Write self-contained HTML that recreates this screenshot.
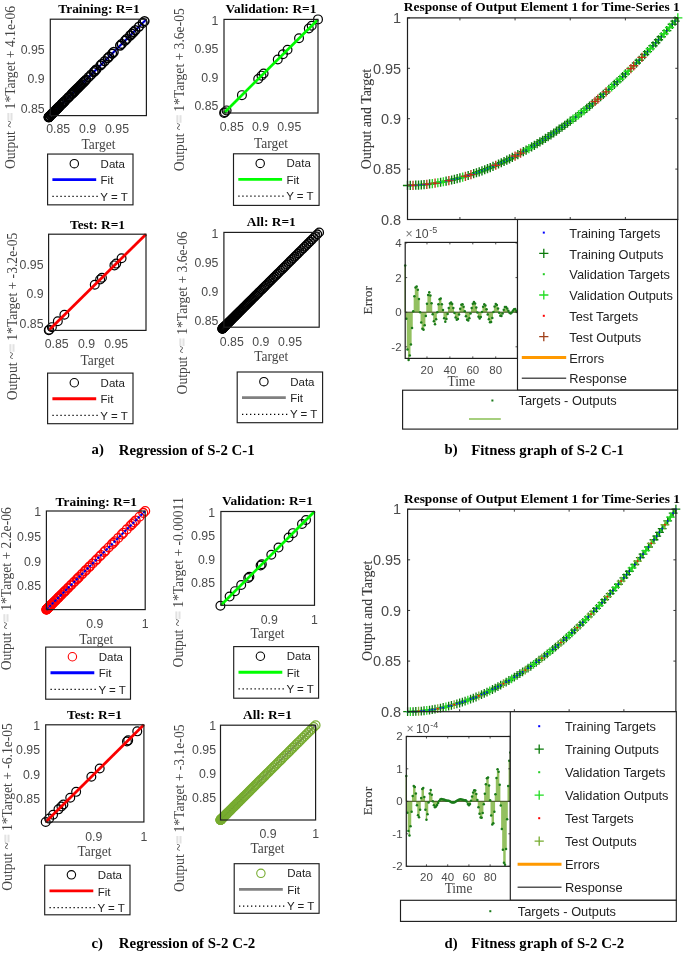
<!DOCTYPE html>
<html><head><meta charset="utf-8"><style>
html,body{margin:0;padding:0;background:#fff;}
body{width:685px;height:953px;overflow:hidden;}
svg{position:absolute;left:0;top:0;filter:blur(0.42px);}
</style></head><body>
<svg width="685" height="953" viewBox="0 0 685 953">
<line x1="50.3" y1="115.6" x2="146.4" y2="19.2" stroke="#0000ff" stroke-width="2.2"/>
<circle cx="48.71" cy="117.19" r="4.4" fill="none" stroke="#000" stroke-width="1.5"/>
<circle cx="48.73" cy="117.18" r="4.4" fill="none" stroke="#000" stroke-width="1.5"/>
<circle cx="48.85" cy="117.06" r="4.4" fill="none" stroke="#000" stroke-width="1.5"/>
<circle cx="48.94" cy="116.96" r="4.4" fill="none" stroke="#000" stroke-width="1.5"/>
<circle cx="49.07" cy="116.84" r="4.4" fill="none" stroke="#000" stroke-width="1.5"/>
<circle cx="49.21" cy="116.69" r="4.4" fill="none" stroke="#000" stroke-width="1.5"/>
<circle cx="49.57" cy="116.33" r="4.4" fill="none" stroke="#000" stroke-width="1.5"/>
<circle cx="50.56" cy="115.34" r="4.4" fill="none" stroke="#000" stroke-width="1.5"/>
<circle cx="51.18" cy="114.71" r="4.4" fill="none" stroke="#000" stroke-width="1.5"/>
<circle cx="51.89" cy="114" r="4.4" fill="none" stroke="#000" stroke-width="1.5"/>
<circle cx="52.28" cy="113.62" r="4.4" fill="none" stroke="#000" stroke-width="1.5"/>
<circle cx="52.68" cy="113.21" r="4.4" fill="none" stroke="#000" stroke-width="1.5"/>
<circle cx="53.11" cy="112.78" r="4.4" fill="none" stroke="#000" stroke-width="1.5"/>
<circle cx="54.52" cy="111.37" r="4.4" fill="none" stroke="#000" stroke-width="1.5"/>
<circle cx="55.55" cy="110.33" r="4.4" fill="none" stroke="#000" stroke-width="1.5"/>
<circle cx="56.1" cy="109.78" r="4.4" fill="none" stroke="#000" stroke-width="1.5"/>
<circle cx="56.67" cy="109.21" r="4.4" fill="none" stroke="#000" stroke-width="1.5"/>
<circle cx="57.26" cy="108.62" r="4.4" fill="none" stroke="#000" stroke-width="1.5"/>
<circle cx="57.87" cy="108.01" r="4.4" fill="none" stroke="#000" stroke-width="1.5"/>
<circle cx="58.49" cy="107.38" r="4.4" fill="none" stroke="#000" stroke-width="1.5"/>
<circle cx="59.14" cy="106.73" r="4.4" fill="none" stroke="#000" stroke-width="1.5"/>
<circle cx="59.81" cy="106.06" r="4.4" fill="none" stroke="#000" stroke-width="1.5"/>
<circle cx="61.2" cy="104.67" r="4.4" fill="none" stroke="#000" stroke-width="1.5"/>
<circle cx="61.92" cy="103.94" r="4.4" fill="none" stroke="#000" stroke-width="1.5"/>
<circle cx="62.67" cy="103.19" r="4.4" fill="none" stroke="#000" stroke-width="1.5"/>
<circle cx="63.43" cy="102.43" r="4.4" fill="none" stroke="#000" stroke-width="1.5"/>
<circle cx="64.21" cy="101.64" r="4.4" fill="none" stroke="#000" stroke-width="1.5"/>
<circle cx="65.01" cy="100.84" r="4.4" fill="none" stroke="#000" stroke-width="1.5"/>
<circle cx="66.67" cy="99.18" r="4.4" fill="none" stroke="#000" stroke-width="1.5"/>
<circle cx="68.41" cy="97.44" r="4.4" fill="none" stroke="#000" stroke-width="1.5"/>
<circle cx="69.3" cy="96.54" r="4.4" fill="none" stroke="#000" stroke-width="1.5"/>
<circle cx="71.15" cy="94.68" r="4.4" fill="none" stroke="#000" stroke-width="1.5"/>
<circle cx="72.1" cy="93.73" r="4.4" fill="none" stroke="#000" stroke-width="1.5"/>
<circle cx="73.07" cy="92.76" r="4.4" fill="none" stroke="#000" stroke-width="1.5"/>
<circle cx="74.06" cy="91.76" r="4.4" fill="none" stroke="#000" stroke-width="1.5"/>
<circle cx="75.07" cy="90.75" r="4.4" fill="none" stroke="#000" stroke-width="1.5"/>
<circle cx="76.1" cy="89.72" r="4.4" fill="none" stroke="#000" stroke-width="1.5"/>
<circle cx="77.14" cy="88.68" r="4.4" fill="none" stroke="#000" stroke-width="1.5"/>
<circle cx="78.2" cy="87.61" r="4.4" fill="none" stroke="#000" stroke-width="1.5"/>
<circle cx="79.28" cy="86.53" r="4.4" fill="none" stroke="#000" stroke-width="1.5"/>
<circle cx="80.38" cy="85.42" r="4.4" fill="none" stroke="#000" stroke-width="1.5"/>
<circle cx="81.5" cy="84.3" r="4.4" fill="none" stroke="#000" stroke-width="1.5"/>
<circle cx="82.64" cy="83.16" r="4.4" fill="none" stroke="#000" stroke-width="1.5"/>
<circle cx="83.79" cy="82.01" r="4.4" fill="none" stroke="#000" stroke-width="1.5"/>
<circle cx="84.96" cy="80.83" r="4.4" fill="none" stroke="#000" stroke-width="1.5"/>
<circle cx="86.15" cy="79.64" r="4.4" fill="none" stroke="#000" stroke-width="1.5"/>
<circle cx="88.59" cy="77.19" r="4.4" fill="none" stroke="#000" stroke-width="1.5"/>
<circle cx="91.09" cy="74.68" r="4.4" fill="none" stroke="#000" stroke-width="1.5"/>
<circle cx="93.67" cy="72.09" r="4.4" fill="none" stroke="#000" stroke-width="1.5"/>
<circle cx="94.99" cy="70.77" r="4.4" fill="none" stroke="#000" stroke-width="1.5"/>
<circle cx="96.32" cy="69.43" r="4.4" fill="none" stroke="#000" stroke-width="1.5"/>
<circle cx="100.43" cy="65.31" r="4.4" fill="none" stroke="#000" stroke-width="1.5"/>
<circle cx="101.84" cy="63.9" r="4.4" fill="none" stroke="#000" stroke-width="1.5"/>
<circle cx="104.7" cy="61.03" r="4.4" fill="none" stroke="#000" stroke-width="1.5"/>
<circle cx="107.64" cy="58.08" r="4.4" fill="none" stroke="#000" stroke-width="1.5"/>
<circle cx="109.13" cy="56.59" r="4.4" fill="none" stroke="#000" stroke-width="1.5"/>
<circle cx="112.17" cy="53.54" r="4.4" fill="none" stroke="#000" stroke-width="1.5"/>
<circle cx="113.72" cy="51.99" r="4.4" fill="none" stroke="#000" stroke-width="1.5"/>
<circle cx="120.08" cy="45.61" r="4.4" fill="none" stroke="#000" stroke-width="1.5"/>
<circle cx="121.71" cy="43.97" r="4.4" fill="none" stroke="#000" stroke-width="1.5"/>
<circle cx="125.03" cy="40.64" r="4.4" fill="none" stroke="#000" stroke-width="1.5"/>
<circle cx="126.72" cy="38.95" r="4.4" fill="none" stroke="#000" stroke-width="1.5"/>
<circle cx="130.14" cy="35.51" r="4.4" fill="none" stroke="#000" stroke-width="1.5"/>
<circle cx="131.88" cy="33.77" r="4.4" fill="none" stroke="#000" stroke-width="1.5"/>
<circle cx="133.63" cy="32.01" r="4.4" fill="none" stroke="#000" stroke-width="1.5"/>
<circle cx="135.4" cy="30.23" r="4.4" fill="none" stroke="#000" stroke-width="1.5"/>
<circle cx="139" cy="26.62" r="4.4" fill="none" stroke="#000" stroke-width="1.5"/>
<circle cx="142.67" cy="22.95" r="4.4" fill="none" stroke="#000" stroke-width="1.5"/>
<circle cx="144.52" cy="21.08" r="4.4" fill="none" stroke="#000" stroke-width="1.5"/>
<line x1="50.3" y1="115.6" x2="146.4" y2="19.2" stroke="#000" stroke-width="1" stroke-dasharray="1.2 1.4" stroke-opacity="1"/>
<rect x="50.3" y="19.2" width="96.1" height="96.4" fill="none" stroke="#1e1e1e" stroke-width="1.2"/>
<text x="58.23" y="133" font-family='"Liberation Sans", sans-serif' font-size="12.3" fill="#4a4a4a" text-anchor="middle" font-weight="normal" >0.85</text>
<text x="87.62" y="133" font-family='"Liberation Sans", sans-serif' font-size="12.3" fill="#4a4a4a" text-anchor="middle" font-weight="normal" >0.9</text>
<text x="117.01" y="133" font-family='"Liberation Sans", sans-serif' font-size="12.3" fill="#4a4a4a" text-anchor="middle" font-weight="normal" >0.95</text>
<text x="44.6" y="112.84" font-family='"Liberation Sans", sans-serif' font-size="12.3" fill="#4a4a4a" text-anchor="end" font-weight="normal" >0.85</text>
<text x="44.6" y="83.36" font-family='"Liberation Sans", sans-serif' font-size="12.3" fill="#4a4a4a" text-anchor="end" font-weight="normal" >0.9</text>
<text x="44.6" y="53.88" font-family='"Liberation Sans", sans-serif' font-size="12.3" fill="#4a4a4a" text-anchor="end" font-weight="normal" >0.95</text>
<text x="99" y="13.4" font-family='"Liberation Serif", serif' font-size="13.4" fill="#000" text-anchor="middle" font-weight="bold" >Training: R=1</text>
<text x="0" y="0" font-family='"Liberation Serif", serif' font-size="13.5" fill="#444" text-anchor="middle" font-weight="normal" transform="translate(98.5 149.3) scale(1 1.1)" >Target</text>
<text x="15" y="169" font-family='"Liberation Serif", serif' font-size="13.6" fill="#444" text-anchor="start" transform="rotate(-90 15 169)">Output ~<tspan fill="#e2e2e2" stroke="#e2e2e2" stroke-width="1.2">=</tspan> 1*Target + 4.1e-06</text>
<rect x="47.6" y="154.05" width="85.4" height="50.8" fill="#fff" stroke="#1e1e1e" stroke-width="1.15"/>
<circle cx="74.3" cy="163.7" r="4.2" fill="none" stroke="#000" stroke-width="1.1"/>
<text x="100.6" y="167.6" font-family='"Liberation Sans", sans-serif' font-size="11.5" fill="#222" text-anchor="start" font-weight="normal" >Data</text>
<line x1="52.4" y1="179.7" x2="96.2" y2="179.7" stroke="#0000ff" stroke-width="2.8" />
<text x="100.6" y="184.4" font-family='"Liberation Sans", sans-serif' font-size="11.5" fill="#222" text-anchor="start" font-weight="normal" >Fit</text>
<line x1="52.4" y1="196.4" x2="97.7" y2="196.4" stroke="#000" stroke-width="1.3" stroke-dasharray="1.3 2.7"/>
<text x="100.3" y="200.5" font-family='"Liberation Sans", sans-serif' font-size="11.5" fill="#222" text-anchor="start" font-weight="normal" >Y = T</text>
<circle cx="224.11" cy="112.89" r="4.4" fill="none" stroke="#000" stroke-width="1.2"/>
<circle cx="224.86" cy="112.14" r="4.4" fill="none" stroke="#000" stroke-width="1.2"/>
<circle cx="226.59" cy="110.42" r="4.4" fill="none" stroke="#000" stroke-width="1.2"/>
<circle cx="241.94" cy="95.14" r="4.4" fill="none" stroke="#000" stroke-width="1.2"/>
<circle cx="258.21" cy="78.94" r="4.4" fill="none" stroke="#000" stroke-width="1.2"/>
<circle cx="261.49" cy="75.67" r="4.4" fill="none" stroke="#000" stroke-width="1.2"/>
<circle cx="263.61" cy="73.56" r="4.4" fill="none" stroke="#000" stroke-width="1.2"/>
<circle cx="277.76" cy="59.47" r="4.4" fill="none" stroke="#000" stroke-width="1.2"/>
<circle cx="282.93" cy="54.32" r="4.4" fill="none" stroke="#000" stroke-width="1.2"/>
<circle cx="287.53" cy="49.74" r="4.4" fill="none" stroke="#000" stroke-width="1.2"/>
<circle cx="299.03" cy="38.29" r="4.4" fill="none" stroke="#000" stroke-width="1.2"/>
<circle cx="308.8" cy="28.56" r="4.4" fill="none" stroke="#000" stroke-width="1.2"/>
<circle cx="311.68" cy="25.7" r="4.4" fill="none" stroke="#000" stroke-width="1.2"/>
<circle cx="318" cy="19.4" r="4.4" fill="none" stroke="#000" stroke-width="1.2"/>
<line x1="224" y1="113" x2="318" y2="19.4" stroke="#00ff00" stroke-width="2.8"/>
<line x1="224" y1="113" x2="318" y2="19.4" stroke="#000" stroke-width="1" stroke-dasharray="1.2 1.4" stroke-opacity="0.15"/>
<rect x="224" y="19.4" width="94" height="93.6" fill="none" stroke="#1e1e1e" stroke-width="1.2"/>
<text x="231.76" y="131.2" font-family='"Liberation Sans", sans-serif' font-size="12.3" fill="#4a4a4a" text-anchor="middle" font-weight="normal" >0.85</text>
<text x="260.51" y="131.2" font-family='"Liberation Sans", sans-serif' font-size="12.3" fill="#4a4a4a" text-anchor="middle" font-weight="normal" >0.9</text>
<text x="289.25" y="131.2" font-family='"Liberation Sans", sans-serif' font-size="12.3" fill="#4a4a4a" text-anchor="middle" font-weight="normal" >0.95</text>
<text x="218.4" y="110.47" font-family='"Liberation Sans", sans-serif' font-size="12.3" fill="#4a4a4a" text-anchor="end" font-weight="normal" >0.85</text>
<text x="218.4" y="81.85" font-family='"Liberation Sans", sans-serif' font-size="12.3" fill="#4a4a4a" text-anchor="end" font-weight="normal" >0.9</text>
<text x="218.4" y="53.22" font-family='"Liberation Sans", sans-serif' font-size="12.3" fill="#4a4a4a" text-anchor="end" font-weight="normal" >0.95</text>
<text x="218.4" y="24.6" font-family='"Liberation Sans", sans-serif' font-size="12.3" fill="#4a4a4a" text-anchor="end" font-weight="normal" >1</text>
<text x="271" y="13.4" font-family='"Liberation Serif", serif' font-size="13.4" fill="#000" text-anchor="middle" font-weight="bold" >Validation: R=1</text>
<text x="0" y="0" font-family='"Liberation Serif", serif' font-size="13.5" fill="#444" text-anchor="middle" font-weight="normal" transform="translate(271 147.5) scale(1 1.1)" >Target</text>
<text x="184" y="171.3" font-family='"Liberation Serif", serif' font-size="13.6" fill="#444" text-anchor="start" transform="rotate(-90 184 171.3)">Output ~<tspan fill="#e2e2e2" stroke="#e2e2e2" stroke-width="1.2">=</tspan> 1*Target + 3.6e-05</text>
<rect x="233.5" y="153.8" width="85.6" height="51.6" fill="#fff" stroke="#1e1e1e" stroke-width="1.15"/>
<circle cx="260.2" cy="163.45" r="4.2" fill="none" stroke="#000" stroke-width="1.1"/>
<text x="286.5" y="167.35" font-family='"Liberation Sans", sans-serif' font-size="11.5" fill="#222" text-anchor="start" font-weight="normal" >Data</text>
<line x1="238.3" y1="179.45" x2="282.1" y2="179.45" stroke="#00ff00" stroke-width="2.8" />
<text x="286.5" y="184.15" font-family='"Liberation Sans", sans-serif' font-size="11.5" fill="#222" text-anchor="start" font-weight="normal" >Fit</text>
<line x1="238.3" y1="196.15" x2="283.6" y2="196.15" stroke="#000" stroke-width="1.3" stroke-dasharray="1.3 2.7"/>
<text x="286.2" y="200.25" font-family='"Liberation Sans", sans-serif' font-size="11.5" fill="#222" text-anchor="start" font-weight="normal" >Y = T</text>
<circle cx="48.78" cy="330.22" r="4.4" fill="none" stroke="#000" stroke-width="1.2"/>
<circle cx="49.2" cy="329.81" r="4.4" fill="none" stroke="#000" stroke-width="1.2"/>
<circle cx="51.88" cy="327.16" r="4.4" fill="none" stroke="#000" stroke-width="1.2"/>
<circle cx="57.83" cy="321.28" r="4.4" fill="none" stroke="#000" stroke-width="1.2"/>
<circle cx="64.39" cy="314.81" r="4.4" fill="none" stroke="#000" stroke-width="1.2"/>
<circle cx="94.77" cy="284.8" r="4.4" fill="none" stroke="#000" stroke-width="1.2"/>
<circle cx="100.13" cy="279.51" r="4.4" fill="none" stroke="#000" stroke-width="1.2"/>
<circle cx="101.92" cy="277.74" r="4.4" fill="none" stroke="#000" stroke-width="1.2"/>
<circle cx="114.43" cy="265.38" r="4.4" fill="none" stroke="#000" stroke-width="1.2"/>
<circle cx="116.21" cy="263.62" r="4.4" fill="none" stroke="#000" stroke-width="1.2"/>
<circle cx="121.58" cy="258.32" r="4.4" fill="none" stroke="#000" stroke-width="1.2"/>
<line x1="48.6" y1="330.4" x2="146" y2="234.2" stroke="#ff0000" stroke-width="2.8"/>
<line x1="48.6" y1="330.4" x2="146" y2="234.2" stroke="#000" stroke-width="1" stroke-dasharray="1.2 1.4" stroke-opacity="0.15"/>
<rect x="48.6" y="234.2" width="97.4" height="96.2" fill="none" stroke="#1e1e1e" stroke-width="1.2"/>
<text x="56.64" y="348.2" font-family='"Liberation Sans", sans-serif' font-size="12.3" fill="#4a4a4a" text-anchor="middle" font-weight="normal" >0.85</text>
<text x="86.43" y="348.2" font-family='"Liberation Sans", sans-serif' font-size="12.3" fill="#4a4a4a" text-anchor="middle" font-weight="normal" >0.9</text>
<text x="116.21" y="348.2" font-family='"Liberation Sans", sans-serif' font-size="12.3" fill="#4a4a4a" text-anchor="middle" font-weight="normal" >0.95</text>
<text x="43.5" y="327.66" font-family='"Liberation Sans", sans-serif' font-size="12.3" fill="#4a4a4a" text-anchor="end" font-weight="normal" >0.85</text>
<text x="43.5" y="298.24" font-family='"Liberation Sans", sans-serif' font-size="12.3" fill="#4a4a4a" text-anchor="end" font-weight="normal" >0.9</text>
<text x="43.5" y="268.82" font-family='"Liberation Sans", sans-serif' font-size="12.3" fill="#4a4a4a" text-anchor="end" font-weight="normal" >0.95</text>
<text x="97.5" y="228.8" font-family='"Liberation Serif", serif' font-size="13.4" fill="#000" text-anchor="middle" font-weight="bold" >Test: R=1</text>
<text x="0" y="0" font-family='"Liberation Serif", serif' font-size="13.5" fill="#444" text-anchor="middle" font-weight="normal" transform="translate(97.5 364.5) scale(1 1.1)" >Target</text>
<text x="17" y="400.3" font-family='"Liberation Serif", serif' font-size="13.6" fill="#444" text-anchor="start" transform="rotate(-90 17 400.3)">Output ~<tspan fill="#e2e2e2" stroke="#e2e2e2" stroke-width="1.2">=</tspan> 1*Target + -3.2e-05</text>
<rect x="47.6" y="373.1" width="85.4" height="50.6" fill="#fff" stroke="#1e1e1e" stroke-width="1.15"/>
<circle cx="74.3" cy="382.75" r="4.2" fill="none" stroke="#000" stroke-width="1.1"/>
<text x="100.6" y="386.65" font-family='"Liberation Sans", sans-serif' font-size="11.5" fill="#222" text-anchor="start" font-weight="normal" >Data</text>
<line x1="52.4" y1="398.75" x2="96.2" y2="398.75" stroke="#ff0000" stroke-width="2.8" />
<text x="100.6" y="403.45" font-family='"Liberation Sans", sans-serif' font-size="11.5" fill="#222" text-anchor="start" font-weight="normal" >Fit</text>
<line x1="52.4" y1="415.45" x2="97.7" y2="415.45" stroke="#000" stroke-width="1.3" stroke-dasharray="1.3 2.7"/>
<text x="100.3" y="419.55" font-family='"Liberation Sans", sans-serif' font-size="11.5" fill="#222" text-anchor="start" font-weight="normal" >Y = T</text>
<line x1="223.9" y1="327.2" x2="319.2" y2="232.4" stroke="#808080" stroke-width="2.2"/>
<circle cx="222.33" cy="328.77" r="4.25" fill="none" stroke="#000" stroke-width="1.3"/>
<circle cx="222.34" cy="328.75" r="4.25" fill="none" stroke="#000" stroke-width="1.3"/>
<circle cx="222.39" cy="328.7" r="4.25" fill="none" stroke="#000" stroke-width="1.3"/>
<circle cx="222.46" cy="328.63" r="4.25" fill="none" stroke="#000" stroke-width="1.3"/>
<circle cx="222.56" cy="328.54" r="4.25" fill="none" stroke="#000" stroke-width="1.3"/>
<circle cx="222.68" cy="328.42" r="4.25" fill="none" stroke="#000" stroke-width="1.3"/>
<circle cx="222.82" cy="328.27" r="4.25" fill="none" stroke="#000" stroke-width="1.3"/>
<circle cx="222.99" cy="328.11" r="4.25" fill="none" stroke="#000" stroke-width="1.3"/>
<circle cx="223.18" cy="327.92" r="4.25" fill="none" stroke="#000" stroke-width="1.3"/>
<circle cx="223.39" cy="327.71" r="4.25" fill="none" stroke="#000" stroke-width="1.3"/>
<circle cx="223.62" cy="327.48" r="4.25" fill="none" stroke="#000" stroke-width="1.3"/>
<circle cx="223.88" cy="327.22" r="4.25" fill="none" stroke="#000" stroke-width="1.3"/>
<circle cx="224.16" cy="326.95" r="4.25" fill="none" stroke="#000" stroke-width="1.3"/>
<circle cx="224.46" cy="326.65" r="4.25" fill="none" stroke="#000" stroke-width="1.3"/>
<circle cx="224.78" cy="326.33" r="4.25" fill="none" stroke="#000" stroke-width="1.3"/>
<circle cx="225.12" cy="325.99" r="4.25" fill="none" stroke="#000" stroke-width="1.3"/>
<circle cx="225.48" cy="325.63" r="4.25" fill="none" stroke="#000" stroke-width="1.3"/>
<circle cx="225.86" cy="325.25" r="4.25" fill="none" stroke="#000" stroke-width="1.3"/>
<circle cx="226.26" cy="324.85" r="4.25" fill="none" stroke="#000" stroke-width="1.3"/>
<circle cx="226.69" cy="324.43" r="4.25" fill="none" stroke="#000" stroke-width="1.3"/>
<circle cx="227.13" cy="323.99" r="4.25" fill="none" stroke="#000" stroke-width="1.3"/>
<circle cx="227.6" cy="323.52" r="4.25" fill="none" stroke="#000" stroke-width="1.3"/>
<circle cx="228.08" cy="323.04" r="4.25" fill="none" stroke="#000" stroke-width="1.3"/>
<circle cx="228.58" cy="322.54" r="4.25" fill="none" stroke="#000" stroke-width="1.3"/>
<circle cx="229.11" cy="322.02" r="4.25" fill="none" stroke="#000" stroke-width="1.3"/>
<circle cx="229.65" cy="321.48" r="4.25" fill="none" stroke="#000" stroke-width="1.3"/>
<circle cx="230.22" cy="320.92" r="4.25" fill="none" stroke="#000" stroke-width="1.3"/>
<circle cx="230.8" cy="320.34" r="4.25" fill="none" stroke="#000" stroke-width="1.3"/>
<circle cx="231.4" cy="319.74" r="4.25" fill="none" stroke="#000" stroke-width="1.3"/>
<circle cx="232.03" cy="319.12" r="4.25" fill="none" stroke="#000" stroke-width="1.3"/>
<circle cx="232.67" cy="318.48" r="4.25" fill="none" stroke="#000" stroke-width="1.3"/>
<circle cx="233.33" cy="317.82" r="4.25" fill="none" stroke="#000" stroke-width="1.3"/>
<circle cx="234.01" cy="317.14" r="4.25" fill="none" stroke="#000" stroke-width="1.3"/>
<circle cx="234.71" cy="316.45" r="4.25" fill="none" stroke="#000" stroke-width="1.3"/>
<circle cx="235.43" cy="315.73" r="4.25" fill="none" stroke="#000" stroke-width="1.3"/>
<circle cx="236.16" cy="315" r="4.25" fill="none" stroke="#000" stroke-width="1.3"/>
<circle cx="236.92" cy="314.25" r="4.25" fill="none" stroke="#000" stroke-width="1.3"/>
<circle cx="237.7" cy="313.48" r="4.25" fill="none" stroke="#000" stroke-width="1.3"/>
<circle cx="238.49" cy="312.69" r="4.25" fill="none" stroke="#000" stroke-width="1.3"/>
<circle cx="239.3" cy="311.88" r="4.25" fill="none" stroke="#000" stroke-width="1.3"/>
<circle cx="240.14" cy="311.05" r="4.25" fill="none" stroke="#000" stroke-width="1.3"/>
<circle cx="240.99" cy="310.2" r="4.25" fill="none" stroke="#000" stroke-width="1.3"/>
<circle cx="241.86" cy="309.34" r="4.25" fill="none" stroke="#000" stroke-width="1.3"/>
<circle cx="242.75" cy="308.45" r="4.25" fill="none" stroke="#000" stroke-width="1.3"/>
<circle cx="243.65" cy="307.55" r="4.25" fill="none" stroke="#000" stroke-width="1.3"/>
<circle cx="244.58" cy="306.63" r="4.25" fill="none" stroke="#000" stroke-width="1.3"/>
<circle cx="245.52" cy="305.69" r="4.25" fill="none" stroke="#000" stroke-width="1.3"/>
<circle cx="246.48" cy="304.73" r="4.25" fill="none" stroke="#000" stroke-width="1.3"/>
<circle cx="247.46" cy="303.76" r="4.25" fill="none" stroke="#000" stroke-width="1.3"/>
<circle cx="248.46" cy="302.77" r="4.25" fill="none" stroke="#000" stroke-width="1.3"/>
<circle cx="249.48" cy="301.75" r="4.25" fill="none" stroke="#000" stroke-width="1.3"/>
<circle cx="250.52" cy="300.72" r="4.25" fill="none" stroke="#000" stroke-width="1.3"/>
<circle cx="251.57" cy="299.68" r="4.25" fill="none" stroke="#000" stroke-width="1.3"/>
<circle cx="252.64" cy="298.61" r="4.25" fill="none" stroke="#000" stroke-width="1.3"/>
<circle cx="253.73" cy="297.52" r="4.25" fill="none" stroke="#000" stroke-width="1.3"/>
<circle cx="254.84" cy="296.42" r="4.25" fill="none" stroke="#000" stroke-width="1.3"/>
<circle cx="255.97" cy="295.3" r="4.25" fill="none" stroke="#000" stroke-width="1.3"/>
<circle cx="257.11" cy="294.16" r="4.25" fill="none" stroke="#000" stroke-width="1.3"/>
<circle cx="258.27" cy="293.01" r="4.25" fill="none" stroke="#000" stroke-width="1.3"/>
<circle cx="259.45" cy="291.83" r="4.25" fill="none" stroke="#000" stroke-width="1.3"/>
<circle cx="260.65" cy="290.64" r="4.25" fill="none" stroke="#000" stroke-width="1.3"/>
<circle cx="261.87" cy="289.43" r="4.25" fill="none" stroke="#000" stroke-width="1.3"/>
<circle cx="263.1" cy="288.2" r="4.25" fill="none" stroke="#000" stroke-width="1.3"/>
<circle cx="264.35" cy="286.96" r="4.25" fill="none" stroke="#000" stroke-width="1.3"/>
<circle cx="265.62" cy="285.69" r="4.25" fill="none" stroke="#000" stroke-width="1.3"/>
<circle cx="266.91" cy="284.41" r="4.25" fill="none" stroke="#000" stroke-width="1.3"/>
<circle cx="268.22" cy="283.12" r="4.25" fill="none" stroke="#000" stroke-width="1.3"/>
<circle cx="269.54" cy="281.8" r="4.25" fill="none" stroke="#000" stroke-width="1.3"/>
<circle cx="270.88" cy="280.47" r="4.25" fill="none" stroke="#000" stroke-width="1.3"/>
<circle cx="272.24" cy="279.11" r="4.25" fill="none" stroke="#000" stroke-width="1.3"/>
<circle cx="273.62" cy="277.75" r="4.25" fill="none" stroke="#000" stroke-width="1.3"/>
<circle cx="275.01" cy="276.36" r="4.25" fill="none" stroke="#000" stroke-width="1.3"/>
<circle cx="276.42" cy="274.96" r="4.25" fill="none" stroke="#000" stroke-width="1.3"/>
<circle cx="277.85" cy="273.53" r="4.25" fill="none" stroke="#000" stroke-width="1.3"/>
<circle cx="279.3" cy="272.1" r="4.25" fill="none" stroke="#000" stroke-width="1.3"/>
<circle cx="280.76" cy="270.64" r="4.25" fill="none" stroke="#000" stroke-width="1.3"/>
<circle cx="282.24" cy="269.17" r="4.25" fill="none" stroke="#000" stroke-width="1.3"/>
<circle cx="283.74" cy="267.68" r="4.25" fill="none" stroke="#000" stroke-width="1.3"/>
<circle cx="285.25" cy="266.17" r="4.25" fill="none" stroke="#000" stroke-width="1.3"/>
<circle cx="286.79" cy="264.64" r="4.25" fill="none" stroke="#000" stroke-width="1.3"/>
<circle cx="288.34" cy="263.1" r="4.25" fill="none" stroke="#000" stroke-width="1.3"/>
<circle cx="289.91" cy="261.54" r="4.25" fill="none" stroke="#000" stroke-width="1.3"/>
<circle cx="291.49" cy="259.96" r="4.25" fill="none" stroke="#000" stroke-width="1.3"/>
<circle cx="293.1" cy="258.37" r="4.25" fill="none" stroke="#000" stroke-width="1.3"/>
<circle cx="294.72" cy="256.76" r="4.25" fill="none" stroke="#000" stroke-width="1.3"/>
<circle cx="296.35" cy="255.13" r="4.25" fill="none" stroke="#000" stroke-width="1.3"/>
<circle cx="298.01" cy="253.48" r="4.25" fill="none" stroke="#000" stroke-width="1.3"/>
<circle cx="299.68" cy="251.82" r="4.25" fill="none" stroke="#000" stroke-width="1.3"/>
<circle cx="301.37" cy="250.14" r="4.25" fill="none" stroke="#000" stroke-width="1.3"/>
<circle cx="303.08" cy="248.44" r="4.25" fill="none" stroke="#000" stroke-width="1.3"/>
<circle cx="304.8" cy="246.73" r="4.25" fill="none" stroke="#000" stroke-width="1.3"/>
<circle cx="306.54" cy="244.99" r="4.25" fill="none" stroke="#000" stroke-width="1.3"/>
<circle cx="308.3" cy="243.25" r="4.25" fill="none" stroke="#000" stroke-width="1.3"/>
<circle cx="310.07" cy="241.48" r="4.25" fill="none" stroke="#000" stroke-width="1.3"/>
<circle cx="311.86" cy="239.7" r="4.25" fill="none" stroke="#000" stroke-width="1.3"/>
<circle cx="313.67" cy="237.9" r="4.25" fill="none" stroke="#000" stroke-width="1.3"/>
<circle cx="315.5" cy="236.08" r="4.25" fill="none" stroke="#000" stroke-width="1.3"/>
<circle cx="317.34" cy="234.25" r="4.25" fill="none" stroke="#000" stroke-width="1.3"/>
<circle cx="319.2" cy="232.4" r="4.25" fill="none" stroke="#000" stroke-width="1.3"/>
<line x1="223.9" y1="327.2" x2="319.2" y2="232.4" stroke="#000" stroke-width="1" stroke-dasharray="1.2 1.4" stroke-opacity="0.4"/>
<rect x="223.9" y="232.4" width="95.3" height="94.8" fill="none" stroke="#1e1e1e" stroke-width="1.2"/>
<text x="231.77" y="345.7" font-family='"Liberation Sans", sans-serif' font-size="12.3" fill="#4a4a4a" text-anchor="middle" font-weight="normal" >0.85</text>
<text x="260.91" y="345.7" font-family='"Liberation Sans", sans-serif' font-size="12.3" fill="#4a4a4a" text-anchor="middle" font-weight="normal" >0.9</text>
<text x="290.06" y="345.7" font-family='"Liberation Sans", sans-serif' font-size="12.3" fill="#4a4a4a" text-anchor="middle" font-weight="normal" >0.95</text>
<text x="218.4" y="324.57" font-family='"Liberation Sans", sans-serif' font-size="12.3" fill="#4a4a4a" text-anchor="end" font-weight="normal" >0.85</text>
<text x="218.4" y="295.58" font-family='"Liberation Sans", sans-serif' font-size="12.3" fill="#4a4a4a" text-anchor="end" font-weight="normal" >0.9</text>
<text x="218.4" y="266.59" font-family='"Liberation Sans", sans-serif' font-size="12.3" fill="#4a4a4a" text-anchor="end" font-weight="normal" >0.95</text>
<text x="218.4" y="237.6" font-family='"Liberation Sans", sans-serif' font-size="12.3" fill="#4a4a4a" text-anchor="end" font-weight="normal" >1</text>
<text x="271.3" y="226.4" font-family='"Liberation Serif", serif' font-size="13.4" fill="#000" text-anchor="middle" font-weight="bold" >All: R=1</text>
<text x="0" y="0" font-family='"Liberation Serif", serif' font-size="13.5" fill="#444" text-anchor="middle" font-weight="normal" transform="translate(271.3 361.2) scale(1 1.1)" >Target</text>
<text x="187" y="394.4" font-family='"Liberation Serif", serif' font-size="13.6" fill="#444" text-anchor="start" transform="rotate(-90 187 394.4)">Output ~<tspan fill="#e2e2e2" stroke="#e2e2e2" stroke-width="1.2">=</tspan> 1*Target + 3.6e-06</text>
<rect x="237.2" y="372" width="85.4" height="50.7" fill="#fff" stroke="#1e1e1e" stroke-width="1.15"/>
<circle cx="263.9" cy="381.65" r="4.2" fill="none" stroke="#000" stroke-width="1.1"/>
<text x="290.2" y="385.55" font-family='"Liberation Sans", sans-serif' font-size="11.5" fill="#222" text-anchor="start" font-weight="normal" >Data</text>
<line x1="242" y1="397.65" x2="285.8" y2="397.65" stroke="#808080" stroke-width="2.8" />
<text x="290.2" y="402.35" font-family='"Liberation Sans", sans-serif' font-size="11.5" fill="#222" text-anchor="start" font-weight="normal" >Fit</text>
<line x1="242" y1="414.35" x2="287.3" y2="414.35" stroke="#000" stroke-width="1.3" stroke-dasharray="1.3 2.7"/>
<text x="289.9" y="418.45" font-family='"Liberation Sans", sans-serif' font-size="11.5" fill="#222" text-anchor="start" font-weight="normal" >Y = T</text>
<circle cx="46.4" cy="609.6" r="4.4" fill="none" stroke="#ff0000" stroke-width="1.3"/>
<circle cx="46.46" cy="609.54" r="4.4" fill="none" stroke="#ff0000" stroke-width="1.3"/>
<circle cx="46.52" cy="609.48" r="4.4" fill="none" stroke="#ff0000" stroke-width="1.3"/>
<circle cx="46.73" cy="609.27" r="4.4" fill="none" stroke="#ff0000" stroke-width="1.3"/>
<circle cx="46.86" cy="609.14" r="4.4" fill="none" stroke="#ff0000" stroke-width="1.3"/>
<circle cx="47.2" cy="608.8" r="4.4" fill="none" stroke="#ff0000" stroke-width="1.3"/>
<circle cx="47.41" cy="608.59" r="4.4" fill="none" stroke="#ff0000" stroke-width="1.3"/>
<circle cx="47.63" cy="608.37" r="4.4" fill="none" stroke="#ff0000" stroke-width="1.3"/>
<circle cx="48.15" cy="607.85" r="4.4" fill="none" stroke="#ff0000" stroke-width="1.3"/>
<circle cx="48.44" cy="607.56" r="4.4" fill="none" stroke="#ff0000" stroke-width="1.3"/>
<circle cx="49.09" cy="606.92" r="4.4" fill="none" stroke="#ff0000" stroke-width="1.3"/>
<circle cx="49.44" cy="606.56" r="4.4" fill="none" stroke="#ff0000" stroke-width="1.3"/>
<circle cx="50.22" cy="605.79" r="4.4" fill="none" stroke="#ff0000" stroke-width="1.3"/>
<circle cx="50.63" cy="605.37" r="4.4" fill="none" stroke="#ff0000" stroke-width="1.3"/>
<circle cx="51.07" cy="604.94" r="4.4" fill="none" stroke="#ff0000" stroke-width="1.3"/>
<circle cx="51.53" cy="604.48" r="4.4" fill="none" stroke="#ff0000" stroke-width="1.3"/>
<circle cx="52.51" cy="603.5" r="4.4" fill="none" stroke="#ff0000" stroke-width="1.3"/>
<circle cx="53.03" cy="602.98" r="4.4" fill="none" stroke="#ff0000" stroke-width="1.3"/>
<circle cx="53.57" cy="602.44" r="4.4" fill="none" stroke="#ff0000" stroke-width="1.3"/>
<circle cx="54.71" cy="601.3" r="4.4" fill="none" stroke="#ff0000" stroke-width="1.3"/>
<circle cx="55.32" cy="600.7" r="4.4" fill="none" stroke="#ff0000" stroke-width="1.3"/>
<circle cx="55.94" cy="600.08" r="4.4" fill="none" stroke="#ff0000" stroke-width="1.3"/>
<circle cx="57.24" cy="598.78" r="4.4" fill="none" stroke="#ff0000" stroke-width="1.3"/>
<circle cx="57.92" cy="598.1" r="4.4" fill="none" stroke="#ff0000" stroke-width="1.3"/>
<circle cx="58.62" cy="597.4" r="4.4" fill="none" stroke="#ff0000" stroke-width="1.3"/>
<circle cx="59.34" cy="596.68" r="4.4" fill="none" stroke="#ff0000" stroke-width="1.3"/>
<circle cx="60.84" cy="595.18" r="4.4" fill="none" stroke="#ff0000" stroke-width="1.3"/>
<circle cx="61.62" cy="594.41" r="4.4" fill="none" stroke="#ff0000" stroke-width="1.3"/>
<circle cx="63.24" cy="592.79" r="4.4" fill="none" stroke="#ff0000" stroke-width="1.3"/>
<circle cx="64.08" cy="591.95" r="4.4" fill="none" stroke="#ff0000" stroke-width="1.3"/>
<circle cx="64.94" cy="591.1" r="4.4" fill="none" stroke="#ff0000" stroke-width="1.3"/>
<circle cx="65.82" cy="590.22" r="4.4" fill="none" stroke="#ff0000" stroke-width="1.3"/>
<circle cx="67.63" cy="588.41" r="4.4" fill="none" stroke="#ff0000" stroke-width="1.3"/>
<circle cx="68.57" cy="587.47" r="4.4" fill="none" stroke="#ff0000" stroke-width="1.3"/>
<circle cx="70.5" cy="585.55" r="4.4" fill="none" stroke="#ff0000" stroke-width="1.3"/>
<circle cx="71.49" cy="584.56" r="4.4" fill="none" stroke="#ff0000" stroke-width="1.3"/>
<circle cx="73.54" cy="582.51" r="4.4" fill="none" stroke="#ff0000" stroke-width="1.3"/>
<circle cx="74.59" cy="581.46" r="4.4" fill="none" stroke="#ff0000" stroke-width="1.3"/>
<circle cx="76.75" cy="579.31" r="4.4" fill="none" stroke="#ff0000" stroke-width="1.3"/>
<circle cx="77.86" cy="578.2" r="4.4" fill="none" stroke="#ff0000" stroke-width="1.3"/>
<circle cx="78.99" cy="577.07" r="4.4" fill="none" stroke="#ff0000" stroke-width="1.3"/>
<circle cx="81.3" cy="574.77" r="4.4" fill="none" stroke="#ff0000" stroke-width="1.3"/>
<circle cx="82.49" cy="573.58" r="4.4" fill="none" stroke="#ff0000" stroke-width="1.3"/>
<circle cx="84.92" cy="571.16" r="4.4" fill="none" stroke="#ff0000" stroke-width="1.3"/>
<circle cx="86.16" cy="569.92" r="4.4" fill="none" stroke="#ff0000" stroke-width="1.3"/>
<circle cx="88.7" cy="567.39" r="4.4" fill="none" stroke="#ff0000" stroke-width="1.3"/>
<circle cx="90" cy="566.09" r="4.4" fill="none" stroke="#ff0000" stroke-width="1.3"/>
<circle cx="92.65" cy="563.44" r="4.4" fill="none" stroke="#ff0000" stroke-width="1.3"/>
<circle cx="95.38" cy="560.72" r="4.4" fill="none" stroke="#ff0000" stroke-width="1.3"/>
<circle cx="96.77" cy="559.33" r="4.4" fill="none" stroke="#ff0000" stroke-width="1.3"/>
<circle cx="99.61" cy="556.49" r="4.4" fill="none" stroke="#ff0000" stroke-width="1.3"/>
<circle cx="101.06" cy="555.05" r="4.4" fill="none" stroke="#ff0000" stroke-width="1.3"/>
<circle cx="104.01" cy="552.1" r="4.4" fill="none" stroke="#ff0000" stroke-width="1.3"/>
<circle cx="105.52" cy="550.6" r="4.4" fill="none" stroke="#ff0000" stroke-width="1.3"/>
<circle cx="108.58" cy="547.54" r="4.4" fill="none" stroke="#ff0000" stroke-width="1.3"/>
<circle cx="111.72" cy="544.41" r="4.4" fill="none" stroke="#ff0000" stroke-width="1.3"/>
<circle cx="113.32" cy="542.82" r="4.4" fill="none" stroke="#ff0000" stroke-width="1.3"/>
<circle cx="114.93" cy="541.21" r="4.4" fill="none" stroke="#ff0000" stroke-width="1.3"/>
<circle cx="118.22" cy="537.93" r="4.4" fill="none" stroke="#ff0000" stroke-width="1.3"/>
<circle cx="121.58" cy="534.57" r="4.4" fill="none" stroke="#ff0000" stroke-width="1.3"/>
<circle cx="123.28" cy="532.87" r="4.4" fill="none" stroke="#ff0000" stroke-width="1.3"/>
<circle cx="126.75" cy="529.41" r="4.4" fill="none" stroke="#ff0000" stroke-width="1.3"/>
<circle cx="130.3" cy="525.87" r="4.4" fill="none" stroke="#ff0000" stroke-width="1.3"/>
<circle cx="132.1" cy="524.08" r="4.4" fill="none" stroke="#ff0000" stroke-width="1.3"/>
<circle cx="133.91" cy="522.26" r="4.4" fill="none" stroke="#ff0000" stroke-width="1.3"/>
<circle cx="135.75" cy="520.43" r="4.4" fill="none" stroke="#ff0000" stroke-width="1.3"/>
<circle cx="139.47" cy="516.71" r="4.4" fill="none" stroke="#ff0000" stroke-width="1.3"/>
<circle cx="143.27" cy="512.92" r="4.4" fill="none" stroke="#ff0000" stroke-width="1.3"/>
<circle cx="145.2" cy="511" r="4.4" fill="none" stroke="#ff0000" stroke-width="1.3"/>
<line x1="46.4" y1="609.6" x2="145.2" y2="511" stroke="#0000ff" stroke-width="2.2" stroke-dasharray="2.4 1.4"/>
<line x1="46.4" y1="609.6" x2="145.2" y2="511" stroke="#000" stroke-width="1" stroke-dasharray="1.2 1.4" stroke-opacity="0.5"/>
<rect x="46.4" y="511" width="98.8" height="98.6" fill="none" stroke="#1e1e1e" stroke-width="1.2"/>
<text x="94.8" y="628.4" font-family='"Liberation Sans", sans-serif' font-size="12.3" fill="#4a4a4a" text-anchor="middle" font-weight="normal" >0.9</text>
<text x="145.2" y="628.4" font-family='"Liberation Sans", sans-serif' font-size="12.3" fill="#4a4a4a" text-anchor="middle" font-weight="normal" >1</text>
<text x="41" y="590.15" font-family='"Liberation Sans", sans-serif' font-size="12.3" fill="#4a4a4a" text-anchor="end" font-weight="normal" >0.85</text>
<text x="41" y="565.5" font-family='"Liberation Sans", sans-serif' font-size="12.3" fill="#4a4a4a" text-anchor="end" font-weight="normal" >0.9</text>
<text x="41" y="540.85" font-family='"Liberation Sans", sans-serif' font-size="12.3" fill="#4a4a4a" text-anchor="end" font-weight="normal" >0.95</text>
<text x="41" y="516.2" font-family='"Liberation Sans", sans-serif' font-size="12.3" fill="#4a4a4a" text-anchor="end" font-weight="normal" >1</text>
<text x="96.3" y="505.8" font-family='"Liberation Serif", serif' font-size="13.4" fill="#000" text-anchor="middle" font-weight="bold" >Training: R=1</text>
<text x="0" y="0" font-family='"Liberation Serif", serif' font-size="13.5" fill="#444" text-anchor="middle" font-weight="normal" transform="translate(96.3 644) scale(1 1.1)" >Target</text>
<text x="11.2" y="670.3" font-family='"Liberation Serif", serif' font-size="13.6" fill="#444" text-anchor="start" transform="rotate(-90 11.2 670.3)">Output ~<tspan fill="#e2e2e2" stroke="#e2e2e2" stroke-width="1.2">=</tspan> 1*Target + 2.2e-06</text>
<rect x="45.7" y="647.1" width="84.8" height="52.1" fill="#fff" stroke="#1e1e1e" stroke-width="1.15"/>
<circle cx="72.4" cy="656.75" r="4.2" fill="none" stroke="#ff0000" stroke-width="1.1"/>
<text x="98.7" y="660.65" font-family='"Liberation Sans", sans-serif' font-size="11.5" fill="#222" text-anchor="start" font-weight="normal" >Data</text>
<line x1="50.5" y1="672.75" x2="94.3" y2="672.75" stroke="#0000ff" stroke-width="2.8" />
<text x="98.7" y="677.45" font-family='"Liberation Sans", sans-serif' font-size="11.5" fill="#222" text-anchor="start" font-weight="normal" >Fit</text>
<line x1="50.5" y1="689.45" x2="95.8" y2="689.45" stroke="#000" stroke-width="1.3" stroke-dasharray="1.3 2.7"/>
<text x="98.4" y="693.55" font-family='"Liberation Sans", sans-serif' font-size="11.5" fill="#222" text-anchor="start" font-weight="normal" >Y = T</text>
<circle cx="220.4" cy="605.8" r="4.4" fill="none" stroke="#000" stroke-width="1.2"/>
<circle cx="229.6" cy="596.58" r="4.4" fill="none" stroke="#000" stroke-width="1.2"/>
<circle cx="235" cy="591.17" r="4.4" fill="none" stroke="#000" stroke-width="1.2"/>
<circle cx="241.2" cy="584.96" r="4.4" fill="none" stroke="#000" stroke-width="1.2"/>
<circle cx="248.2" cy="577.94" r="4.4" fill="none" stroke="#000" stroke-width="1.2"/>
<circle cx="249.4" cy="576.74" r="4.4" fill="none" stroke="#000" stroke-width="1.2"/>
<circle cx="260.6" cy="565.52" r="4.4" fill="none" stroke="#000" stroke-width="1.2"/>
<circle cx="261.8" cy="564.31" r="4.4" fill="none" stroke="#000" stroke-width="1.2"/>
<circle cx="271.3" cy="554.79" r="4.4" fill="none" stroke="#000" stroke-width="1.2"/>
<circle cx="278.5" cy="547.58" r="4.4" fill="none" stroke="#000" stroke-width="1.2"/>
<circle cx="288.6" cy="537.46" r="4.4" fill="none" stroke="#000" stroke-width="1.2"/>
<circle cx="292.9" cy="533.15" r="4.4" fill="none" stroke="#000" stroke-width="1.2"/>
<circle cx="302" cy="524.03" r="4.4" fill="none" stroke="#000" stroke-width="1.2"/>
<circle cx="306" cy="520.02" r="4.4" fill="none" stroke="#000" stroke-width="1.2"/>
<line x1="220.9" y1="605.3" x2="314.5" y2="511.5" stroke="#00ff00" stroke-width="2.8"/>
<line x1="220.9" y1="605.3" x2="314.5" y2="511.5" stroke="#000" stroke-width="1" stroke-dasharray="1.2 1.4" stroke-opacity="0.15"/>
<rect x="220.9" y="511.5" width="93.6" height="93.8" fill="none" stroke="#1e1e1e" stroke-width="1.2"/>
<text x="269.2" y="624.2" font-family='"Liberation Sans", sans-serif' font-size="12.3" fill="#4a4a4a" text-anchor="middle" font-weight="normal" >0.9</text>
<text x="314.5" y="624.2" font-family='"Liberation Sans", sans-serif' font-size="12.3" fill="#4a4a4a" text-anchor="middle" font-weight="normal" >1</text>
<text x="215" y="587.05" font-family='"Liberation Sans", sans-serif' font-size="12.3" fill="#4a4a4a" text-anchor="end" font-weight="normal" >0.85</text>
<text x="215" y="563.6" font-family='"Liberation Sans", sans-serif' font-size="12.3" fill="#4a4a4a" text-anchor="end" font-weight="normal" >0.9</text>
<text x="215" y="540.15" font-family='"Liberation Sans", sans-serif' font-size="12.3" fill="#4a4a4a" text-anchor="end" font-weight="normal" >0.95</text>
<text x="215" y="516.7" font-family='"Liberation Sans", sans-serif' font-size="12.3" fill="#4a4a4a" text-anchor="end" font-weight="normal" >1</text>
<text x="267.5" y="505.3" font-family='"Liberation Serif", serif' font-size="13.4" fill="#000" text-anchor="middle" font-weight="bold" >Validation: R=1</text>
<text x="0" y="0" font-family='"Liberation Serif", serif' font-size="13.5" fill="#444" text-anchor="middle" font-weight="normal" transform="translate(267.5 637.9) scale(1 1.1)" >Target</text>
<text x="182.9" y="667.4" font-family='"Liberation Serif", serif' font-size="13.6" fill="#444" text-anchor="start" transform="rotate(-90 182.9 667.4)">Output ~<tspan fill="#e2e2e2" stroke="#e2e2e2" stroke-width="1.2">=</tspan> 1*Target + -0.00011</text>
<rect x="233.7" y="646.6" width="84.9" height="51.6" fill="#fff" stroke="#1e1e1e" stroke-width="1.15"/>
<circle cx="260.4" cy="656.25" r="4.2" fill="none" stroke="#000" stroke-width="1.1"/>
<text x="286.7" y="660.15" font-family='"Liberation Sans", sans-serif' font-size="11.5" fill="#222" text-anchor="start" font-weight="normal" >Data</text>
<line x1="238.5" y1="672.25" x2="282.3" y2="672.25" stroke="#00ff00" stroke-width="2.8" />
<text x="286.7" y="676.95" font-family='"Liberation Sans", sans-serif' font-size="11.5" fill="#222" text-anchor="start" font-weight="normal" >Fit</text>
<line x1="238.5" y1="688.95" x2="283.8" y2="688.95" stroke="#000" stroke-width="1.3" stroke-dasharray="1.3 2.7"/>
<text x="286.4" y="693.05" font-family='"Liberation Sans", sans-serif' font-size="11.5" fill="#222" text-anchor="start" font-weight="normal" >Y = T</text>
<circle cx="45.7" cy="822" r="4.4" fill="none" stroke="#000" stroke-width="1.2"/>
<circle cx="49.14" cy="818.6" r="4.4" fill="none" stroke="#000" stroke-width="1.2"/>
<circle cx="53.06" cy="814.71" r="4.4" fill="none" stroke="#000" stroke-width="1.2"/>
<circle cx="58.47" cy="809.36" r="4.4" fill="none" stroke="#000" stroke-width="1.2"/>
<circle cx="61.41" cy="806.45" r="4.4" fill="none" stroke="#000" stroke-width="1.2"/>
<circle cx="63.38" cy="804.5" r="4.4" fill="none" stroke="#000" stroke-width="1.2"/>
<circle cx="70.25" cy="797.7" r="4.4" fill="none" stroke="#000" stroke-width="1.2"/>
<circle cx="76.14" cy="791.87" r="4.4" fill="none" stroke="#000" stroke-width="1.2"/>
<circle cx="91.36" cy="776.8" r="4.4" fill="none" stroke="#000" stroke-width="1.2"/>
<circle cx="99.71" cy="768.54" r="4.4" fill="none" stroke="#000" stroke-width="1.2"/>
<circle cx="126.96" cy="741.57" r="4.4" fill="none" stroke="#000" stroke-width="1.2"/>
<circle cx="128.19" cy="740.35" r="4.4" fill="none" stroke="#000" stroke-width="1.2"/>
<circle cx="137.27" cy="731.36" r="4.4" fill="none" stroke="#000" stroke-width="1.2"/>
<line x1="45.7" y1="822" x2="143.9" y2="724.8" stroke="#ff0000" stroke-width="2.8"/>
<line x1="45.7" y1="822" x2="143.9" y2="724.8" stroke="#000" stroke-width="1" stroke-dasharray="1.2 1.4" stroke-opacity="0.15"/>
<rect x="45.7" y="724.8" width="98.2" height="97.2" fill="none" stroke="#1e1e1e" stroke-width="1.2"/>
<text x="93.8" y="840.7" font-family='"Liberation Sans", sans-serif' font-size="12.3" fill="#4a4a4a" text-anchor="middle" font-weight="normal" >0.9</text>
<text x="143.9" y="840.7" font-family='"Liberation Sans", sans-serif' font-size="12.3" fill="#4a4a4a" text-anchor="middle" font-weight="normal" >1</text>
<text x="40" y="802.9" font-family='"Liberation Sans", sans-serif' font-size="12.3" fill="#4a4a4a" text-anchor="end" font-weight="normal" >0.85</text>
<text x="40" y="778.6" font-family='"Liberation Sans", sans-serif' font-size="12.3" fill="#4a4a4a" text-anchor="end" font-weight="normal" >0.9</text>
<text x="40" y="754.3" font-family='"Liberation Sans", sans-serif' font-size="12.3" fill="#4a4a4a" text-anchor="end" font-weight="normal" >0.95</text>
<text x="40" y="730" font-family='"Liberation Sans", sans-serif' font-size="12.3" fill="#4a4a4a" text-anchor="end" font-weight="normal" >1</text>
<text x="94.5" y="719" font-family='"Liberation Serif", serif' font-size="13.4" fill="#000" text-anchor="middle" font-weight="bold" >Test: R=1</text>
<text x="0" y="0" font-family='"Liberation Serif", serif' font-size="13.5" fill="#444" text-anchor="middle" font-weight="normal" transform="translate(94.5 856) scale(1 1.1)" >Target</text>
<text x="12.5" y="890.7" font-family='"Liberation Serif", serif' font-size="13.6" fill="#444" text-anchor="start" transform="rotate(-90 12.5 890.7)">Output ~<tspan fill="#e2e2e2" stroke="#e2e2e2" stroke-width="1.2">=</tspan> 1*Target + -6.1e-05</text>
<rect x="44.7" y="865.2" width="85.3" height="49.6" fill="#fff" stroke="#1e1e1e" stroke-width="1.15"/>
<circle cx="71.4" cy="874.85" r="4.2" fill="none" stroke="#000" stroke-width="1.1"/>
<text x="97.7" y="878.75" font-family='"Liberation Sans", sans-serif' font-size="11.5" fill="#222" text-anchor="start" font-weight="normal" >Data</text>
<line x1="49.5" y1="890.85" x2="93.3" y2="890.85" stroke="#ff0000" stroke-width="2.8" />
<text x="97.7" y="895.55" font-family='"Liberation Sans", sans-serif' font-size="11.5" fill="#222" text-anchor="start" font-weight="normal" >Fit</text>
<line x1="49.5" y1="907.55" x2="94.8" y2="907.55" stroke="#000" stroke-width="1.3" stroke-dasharray="1.3 2.7"/>
<text x="97.4" y="911.65" font-family='"Liberation Sans", sans-serif' font-size="11.5" fill="#222" text-anchor="start" font-weight="normal" >Y = T</text>
<line x1="220.5" y1="820" x2="315.6" y2="725.2" stroke="#808080" stroke-width="2.2"/>
<circle cx="220.5" cy="820" r="4.4" fill="none" stroke="#77ac30" stroke-width="1.2"/>
<circle cx="220.51" cy="819.99" r="4.4" fill="none" stroke="#77ac30" stroke-width="1.2"/>
<circle cx="220.55" cy="819.95" r="4.4" fill="none" stroke="#77ac30" stroke-width="1.2"/>
<circle cx="220.62" cy="819.88" r="4.4" fill="none" stroke="#77ac30" stroke-width="1.2"/>
<circle cx="220.7" cy="819.8" r="4.4" fill="none" stroke="#77ac30" stroke-width="1.2"/>
<circle cx="220.81" cy="819.69" r="4.4" fill="none" stroke="#77ac30" stroke-width="1.2"/>
<circle cx="220.95" cy="819.56" r="4.4" fill="none" stroke="#77ac30" stroke-width="1.2"/>
<circle cx="221.1" cy="819.4" r="4.4" fill="none" stroke="#77ac30" stroke-width="1.2"/>
<circle cx="221.27" cy="819.23" r="4.4" fill="none" stroke="#77ac30" stroke-width="1.2"/>
<circle cx="221.47" cy="819.03" r="4.4" fill="none" stroke="#77ac30" stroke-width="1.2"/>
<circle cx="221.69" cy="818.82" r="4.4" fill="none" stroke="#77ac30" stroke-width="1.2"/>
<circle cx="221.93" cy="818.58" r="4.4" fill="none" stroke="#77ac30" stroke-width="1.2"/>
<circle cx="222.19" cy="818.32" r="4.4" fill="none" stroke="#77ac30" stroke-width="1.2"/>
<circle cx="222.47" cy="818.04" r="4.4" fill="none" stroke="#77ac30" stroke-width="1.2"/>
<circle cx="222.77" cy="817.74" r="4.4" fill="none" stroke="#77ac30" stroke-width="1.2"/>
<circle cx="223.09" cy="817.42" r="4.4" fill="none" stroke="#77ac30" stroke-width="1.2"/>
<circle cx="223.43" cy="817.08" r="4.4" fill="none" stroke="#77ac30" stroke-width="1.2"/>
<circle cx="223.79" cy="816.72" r="4.4" fill="none" stroke="#77ac30" stroke-width="1.2"/>
<circle cx="224.17" cy="816.34" r="4.4" fill="none" stroke="#77ac30" stroke-width="1.2"/>
<circle cx="224.58" cy="815.94" r="4.4" fill="none" stroke="#77ac30" stroke-width="1.2"/>
<circle cx="225" cy="815.52" r="4.4" fill="none" stroke="#77ac30" stroke-width="1.2"/>
<circle cx="225.44" cy="815.08" r="4.4" fill="none" stroke="#77ac30" stroke-width="1.2"/>
<circle cx="225.9" cy="814.62" r="4.4" fill="none" stroke="#77ac30" stroke-width="1.2"/>
<circle cx="226.38" cy="814.14" r="4.4" fill="none" stroke="#77ac30" stroke-width="1.2"/>
<circle cx="226.88" cy="813.64" r="4.4" fill="none" stroke="#77ac30" stroke-width="1.2"/>
<circle cx="227.4" cy="813.12" r="4.4" fill="none" stroke="#77ac30" stroke-width="1.2"/>
<circle cx="227.94" cy="812.58" r="4.4" fill="none" stroke="#77ac30" stroke-width="1.2"/>
<circle cx="228.5" cy="812.02" r="4.4" fill="none" stroke="#77ac30" stroke-width="1.2"/>
<circle cx="229.08" cy="811.45" r="4.4" fill="none" stroke="#77ac30" stroke-width="1.2"/>
<circle cx="229.68" cy="810.85" r="4.4" fill="none" stroke="#77ac30" stroke-width="1.2"/>
<circle cx="230.3" cy="810.23" r="4.4" fill="none" stroke="#77ac30" stroke-width="1.2"/>
<circle cx="230.93" cy="809.6" r="4.4" fill="none" stroke="#77ac30" stroke-width="1.2"/>
<circle cx="231.59" cy="808.95" r="4.4" fill="none" stroke="#77ac30" stroke-width="1.2"/>
<circle cx="232.26" cy="808.27" r="4.4" fill="none" stroke="#77ac30" stroke-width="1.2"/>
<circle cx="232.96" cy="807.58" r="4.4" fill="none" stroke="#77ac30" stroke-width="1.2"/>
<circle cx="233.67" cy="806.87" r="4.4" fill="none" stroke="#77ac30" stroke-width="1.2"/>
<circle cx="234.4" cy="806.14" r="4.4" fill="none" stroke="#77ac30" stroke-width="1.2"/>
<circle cx="235.15" cy="805.39" r="4.4" fill="none" stroke="#77ac30" stroke-width="1.2"/>
<circle cx="235.92" cy="804.62" r="4.4" fill="none" stroke="#77ac30" stroke-width="1.2"/>
<circle cx="236.71" cy="803.84" r="4.4" fill="none" stroke="#77ac30" stroke-width="1.2"/>
<circle cx="237.52" cy="803.03" r="4.4" fill="none" stroke="#77ac30" stroke-width="1.2"/>
<circle cx="238.35" cy="802.21" r="4.4" fill="none" stroke="#77ac30" stroke-width="1.2"/>
<circle cx="239.19" cy="801.37" r="4.4" fill="none" stroke="#77ac30" stroke-width="1.2"/>
<circle cx="240.06" cy="800.51" r="4.4" fill="none" stroke="#77ac30" stroke-width="1.2"/>
<circle cx="240.94" cy="799.63" r="4.4" fill="none" stroke="#77ac30" stroke-width="1.2"/>
<circle cx="241.84" cy="798.73" r="4.4" fill="none" stroke="#77ac30" stroke-width="1.2"/>
<circle cx="242.76" cy="797.81" r="4.4" fill="none" stroke="#77ac30" stroke-width="1.2"/>
<circle cx="243.7" cy="796.87" r="4.4" fill="none" stroke="#77ac30" stroke-width="1.2"/>
<circle cx="244.66" cy="795.92" r="4.4" fill="none" stroke="#77ac30" stroke-width="1.2"/>
<circle cx="245.63" cy="794.95" r="4.4" fill="none" stroke="#77ac30" stroke-width="1.2"/>
<circle cx="246.62" cy="793.96" r="4.4" fill="none" stroke="#77ac30" stroke-width="1.2"/>
<circle cx="247.64" cy="792.95" r="4.4" fill="none" stroke="#77ac30" stroke-width="1.2"/>
<circle cx="248.67" cy="791.92" r="4.4" fill="none" stroke="#77ac30" stroke-width="1.2"/>
<circle cx="249.72" cy="790.88" r="4.4" fill="none" stroke="#77ac30" stroke-width="1.2"/>
<circle cx="250.78" cy="789.81" r="4.4" fill="none" stroke="#77ac30" stroke-width="1.2"/>
<circle cx="251.87" cy="788.73" r="4.4" fill="none" stroke="#77ac30" stroke-width="1.2"/>
<circle cx="252.97" cy="787.63" r="4.4" fill="none" stroke="#77ac30" stroke-width="1.2"/>
<circle cx="254.1" cy="786.51" r="4.4" fill="none" stroke="#77ac30" stroke-width="1.2"/>
<circle cx="255.24" cy="785.37" r="4.4" fill="none" stroke="#77ac30" stroke-width="1.2"/>
<circle cx="256.4" cy="784.22" r="4.4" fill="none" stroke="#77ac30" stroke-width="1.2"/>
<circle cx="257.57" cy="783.04" r="4.4" fill="none" stroke="#77ac30" stroke-width="1.2"/>
<circle cx="258.77" cy="781.85" r="4.4" fill="none" stroke="#77ac30" stroke-width="1.2"/>
<circle cx="259.98" cy="780.64" r="4.4" fill="none" stroke="#77ac30" stroke-width="1.2"/>
<circle cx="261.22" cy="779.41" r="4.4" fill="none" stroke="#77ac30" stroke-width="1.2"/>
<circle cx="262.47" cy="778.17" r="4.4" fill="none" stroke="#77ac30" stroke-width="1.2"/>
<circle cx="263.73" cy="776.9" r="4.4" fill="none" stroke="#77ac30" stroke-width="1.2"/>
<circle cx="265.02" cy="775.62" r="4.4" fill="none" stroke="#77ac30" stroke-width="1.2"/>
<circle cx="266.32" cy="774.32" r="4.4" fill="none" stroke="#77ac30" stroke-width="1.2"/>
<circle cx="267.65" cy="773" r="4.4" fill="none" stroke="#77ac30" stroke-width="1.2"/>
<circle cx="268.99" cy="771.67" r="4.4" fill="none" stroke="#77ac30" stroke-width="1.2"/>
<circle cx="270.34" cy="770.31" r="4.4" fill="none" stroke="#77ac30" stroke-width="1.2"/>
<circle cx="271.72" cy="768.94" r="4.4" fill="none" stroke="#77ac30" stroke-width="1.2"/>
<circle cx="273.11" cy="767.55" r="4.4" fill="none" stroke="#77ac30" stroke-width="1.2"/>
<circle cx="274.53" cy="766.14" r="4.4" fill="none" stroke="#77ac30" stroke-width="1.2"/>
<circle cx="275.96" cy="764.72" r="4.4" fill="none" stroke="#77ac30" stroke-width="1.2"/>
<circle cx="277.4" cy="763.28" r="4.4" fill="none" stroke="#77ac30" stroke-width="1.2"/>
<circle cx="278.87" cy="761.81" r="4.4" fill="none" stroke="#77ac30" stroke-width="1.2"/>
<circle cx="280.35" cy="760.34" r="4.4" fill="none" stroke="#77ac30" stroke-width="1.2"/>
<circle cx="281.85" cy="758.84" r="4.4" fill="none" stroke="#77ac30" stroke-width="1.2"/>
<circle cx="283.37" cy="757.32" r="4.4" fill="none" stroke="#77ac30" stroke-width="1.2"/>
<circle cx="284.91" cy="755.79" r="4.4" fill="none" stroke="#77ac30" stroke-width="1.2"/>
<circle cx="286.47" cy="754.24" r="4.4" fill="none" stroke="#77ac30" stroke-width="1.2"/>
<circle cx="288.04" cy="752.67" r="4.4" fill="none" stroke="#77ac30" stroke-width="1.2"/>
<circle cx="289.63" cy="751.09" r="4.4" fill="none" stroke="#77ac30" stroke-width="1.2"/>
<circle cx="291.24" cy="749.49" r="4.4" fill="none" stroke="#77ac30" stroke-width="1.2"/>
<circle cx="292.86" cy="747.87" r="4.4" fill="none" stroke="#77ac30" stroke-width="1.2"/>
<circle cx="294.51" cy="746.23" r="4.4" fill="none" stroke="#77ac30" stroke-width="1.2"/>
<circle cx="296.17" cy="744.57" r="4.4" fill="none" stroke="#77ac30" stroke-width="1.2"/>
<circle cx="297.85" cy="742.9" r="4.4" fill="none" stroke="#77ac30" stroke-width="1.2"/>
<circle cx="299.54" cy="741.21" r="4.4" fill="none" stroke="#77ac30" stroke-width="1.2"/>
<circle cx="301.26" cy="739.5" r="4.4" fill="none" stroke="#77ac30" stroke-width="1.2"/>
<circle cx="302.99" cy="737.77" r="4.4" fill="none" stroke="#77ac30" stroke-width="1.2"/>
<circle cx="304.74" cy="736.03" r="4.4" fill="none" stroke="#77ac30" stroke-width="1.2"/>
<circle cx="306.5" cy="734.27" r="4.4" fill="none" stroke="#77ac30" stroke-width="1.2"/>
<circle cx="308.29" cy="732.49" r="4.4" fill="none" stroke="#77ac30" stroke-width="1.2"/>
<circle cx="310.09" cy="730.69" r="4.4" fill="none" stroke="#77ac30" stroke-width="1.2"/>
<circle cx="311.91" cy="728.88" r="4.4" fill="none" stroke="#77ac30" stroke-width="1.2"/>
<circle cx="313.75" cy="727.05" r="4.4" fill="none" stroke="#77ac30" stroke-width="1.2"/>
<circle cx="315.6" cy="725.2" r="4.4" fill="none" stroke="#77ac30" stroke-width="1.2"/>
<line x1="220.5" y1="820" x2="315.6" y2="725.2" stroke="#000" stroke-width="1" stroke-dasharray="1.2 1.4" stroke-opacity="0.12"/>
<rect x="220.5" y="725.2" width="95.1" height="94.8" fill="none" stroke="#1e1e1e" stroke-width="1.2"/>
<text x="268.05" y="837.7" font-family='"Liberation Sans", sans-serif' font-size="12.3" fill="#4a4a4a" text-anchor="middle" font-weight="normal" >0.9</text>
<text x="315.6" y="837.7" font-family='"Liberation Sans", sans-serif' font-size="12.3" fill="#4a4a4a" text-anchor="middle" font-weight="normal" >1</text>
<text x="216" y="801.5" font-family='"Liberation Sans", sans-serif' font-size="12.3" fill="#4a4a4a" text-anchor="end" font-weight="normal" >0.85</text>
<text x="216" y="777.8" font-family='"Liberation Sans", sans-serif' font-size="12.3" fill="#4a4a4a" text-anchor="end" font-weight="normal" >0.9</text>
<text x="216" y="754.1" font-family='"Liberation Sans", sans-serif' font-size="12.3" fill="#4a4a4a" text-anchor="end" font-weight="normal" >0.95</text>
<text x="216" y="730.4" font-family='"Liberation Sans", sans-serif' font-size="12.3" fill="#4a4a4a" text-anchor="end" font-weight="normal" >1</text>
<text x="267.5" y="719" font-family='"Liberation Serif", serif' font-size="13.4" fill="#000" text-anchor="middle" font-weight="bold" >All: R=1</text>
<text x="0" y="0" font-family='"Liberation Serif", serif' font-size="13.5" fill="#444" text-anchor="middle" font-weight="normal" transform="translate(267.5 853) scale(1 1.1)" >Target</text>
<text x="184" y="892.1" font-family='"Liberation Serif", serif' font-size="13.6" fill="#444" text-anchor="start" transform="rotate(-90 184 892.1)">Output ~<tspan fill="#e2e2e2" stroke="#e2e2e2" stroke-width="1.2">=</tspan> 1*Target + -3.1e-05</text>
<rect x="234.2" y="863.7" width="84.9" height="49.6" fill="#fff" stroke="#1e1e1e" stroke-width="1.15"/>
<circle cx="260.9" cy="873.35" r="4.2" fill="none" stroke="#77ac30" stroke-width="1.1"/>
<text x="287.2" y="877.25" font-family='"Liberation Sans", sans-serif' font-size="11.5" fill="#222" text-anchor="start" font-weight="normal" >Data</text>
<line x1="239" y1="889.35" x2="282.8" y2="889.35" stroke="#808080" stroke-width="2.8" />
<text x="287.2" y="894.05" font-family='"Liberation Sans", sans-serif' font-size="11.5" fill="#222" text-anchor="start" font-weight="normal" >Fit</text>
<line x1="239" y1="906.05" x2="284.3" y2="906.05" stroke="#000" stroke-width="1.3" stroke-dasharray="1.3 2.7"/>
<text x="286.9" y="910.15" font-family='"Liberation Sans", sans-serif' font-size="11.5" fill="#222" text-anchor="start" font-weight="normal" >Y = T</text>
<text x="91.6" y="454.4" font-family='"Liberation Serif", serif' font-size="14.7" fill="#000" text-anchor="start" font-weight="bold" >a)</text>
<text x="118.8" y="454.6" font-family='"Liberation Serif", serif' font-size="14.7" fill="#000" text-anchor="start" font-weight="bold" textLength="135.8" lengthAdjust="spacingAndGlyphs" >Regression of S-2 C-1</text>
<text x="91.6" y="948" font-family='"Liberation Serif", serif' font-size="14.7" fill="#000" text-anchor="start" font-weight="bold" >c)</text>
<text x="118.8" y="948" font-family='"Liberation Serif", serif' font-size="14.7" fill="#000" text-anchor="start" font-weight="bold" textLength="136.5" lengthAdjust="spacingAndGlyphs" >Regression of S-2 C-2</text>
<path d="M402.9 185.43h9.2M405.66 185.4h9.2M411.17 185.2h9.2M413.93 185.03h9.2M416.69 184.82h9.2M419.45 184.58h9.2M424.97 183.96h9.2M436 182.26h9.2M441.51 181.19h9.2M447.03 179.98h9.2M449.79 179.32h9.2M452.55 178.62h9.2M455.31 177.89h9.2M463.58 175.48h9.2M469.1 173.7h9.2M471.85 172.76h9.2M474.61 171.78h9.2M477.37 170.78h9.2M480.13 169.73h9.2M482.89 168.66h9.2M485.64 167.55h9.2M488.4 166.4h9.2M493.92 164.02h9.2M496.68 162.77h9.2M499.44 161.5h9.2M502.19 160.19h9.2M504.95 158.85h9.2M507.71 157.47h9.2M513.23 154.63h9.2M518.74 151.65h9.2M521.5 150.12h9.2M527.02 146.95h9.2M529.78 145.32h9.2M532.53 143.65h9.2M535.29 141.96h9.2M538.05 140.23h9.2M540.81 138.47h9.2M543.57 136.68h9.2M546.32 134.86h9.2M549.08 133h9.2M551.84 131.12h9.2M554.6 129.2h9.2M557.36 127.25h9.2M560.12 125.27h9.2M562.87 123.26h9.2M565.63 121.22h9.2M571.15 117.05h9.2M576.66 112.75h9.2M582.18 108.32h9.2M584.94 106.07h9.2M587.7 103.78h9.2M595.97 96.73h9.2M598.73 94.32h9.2M604.25 89.41h9.2M609.76 84.38h9.2M612.52 81.82h9.2M618.04 76.6h9.2M620.79 73.95h9.2M631.83 63.04h9.2M634.59 60.24h9.2M640.1 54.55h9.2M642.86 51.66h9.2M648.38 45.79h9.2M651.13 42.81h9.2M653.89 39.8h9.2M656.65 36.76h9.2M662.17 30.59h9.2M667.68 24.3h9.2M670.44 21.12h9.2" stroke="#0a7a0a" stroke-width="1.4" fill="none"/>
<polyline points="407.5,185.43 410.26,185.4 413.02,185.32 415.77,185.2 418.53,185.03 421.29,184.82 424.05,184.58 426.81,184.29 429.57,183.96 432.32,183.59 435.08,183.19 437.84,182.74 440.6,182.26 443.36,181.75 446.11,181.19 448.87,180.6 451.63,179.98 454.39,179.32 457.15,178.62 459.91,177.89 462.66,177.12 465.42,176.32 468.18,175.48 470.94,174.61 473.7,173.7 476.45,172.76 479.21,171.78 481.97,170.78 484.73,169.73 487.49,168.66 490.24,167.55 493,166.4 495.76,165.23 498.52,164.02 501.28,162.77 504.04,161.5 506.79,160.19 509.55,158.85 512.31,157.47 515.07,156.07 517.83,154.63 520.58,153.16 523.34,151.65 526.1,150.12 528.86,148.55 531.62,146.95 534.38,145.32 537.13,143.65 539.89,141.96 542.65,140.23 545.41,138.47 548.17,136.68 550.92,134.86 553.68,133 556.44,131.12 559.2,129.2 561.96,127.25 564.72,125.27 567.47,123.26 570.23,121.22 572.99,119.15 575.75,117.05 578.51,114.91 581.26,112.75 584.02,110.55 586.78,108.32 589.54,106.07 592.3,103.78 595.06,101.46 597.81,99.11 600.57,96.73 603.33,94.32 606.09,91.88 608.85,89.41 611.6,86.91 614.36,84.38 617.12,81.82 619.88,79.23 622.64,76.6 625.39,73.95 628.15,71.27 630.91,68.56 633.67,65.82 636.43,63.04 639.19,60.24 641.94,57.41 644.7,54.55 647.46,51.66 650.22,48.74 652.98,45.79 655.73,42.81 658.49,39.8 661.25,36.76 664.01,33.69 666.77,30.59 669.53,27.46 672.28,24.3 675.04,21.12 677.8,17.9" fill="none" stroke="#2ad42a" stroke-width="2.4"/>
<path d="M407.5 180.83v9.2M410.26 180.8v9.2M415.77 180.6v9.2M418.53 180.43v9.2M421.29 180.22v9.2M424.05 179.98v9.2M429.57 179.36v9.2M440.6 177.66v9.2M446.11 176.59v9.2M451.63 175.38v9.2M454.39 174.72v9.2M457.15 174.02v9.2M459.91 173.29v9.2M468.18 170.88v9.2M473.7 169.1v9.2M476.45 168.16v9.2M479.21 167.18v9.2M481.97 166.18v9.2M484.73 165.13v9.2M487.49 164.06v9.2M490.24 162.95v9.2M493 161.8v9.2M498.52 159.42v9.2M501.28 158.17v9.2M504.04 156.9v9.2M506.79 155.59v9.2M509.55 154.25v9.2M512.31 152.87v9.2M517.83 150.03v9.2M523.34 147.05v9.2M526.1 145.52v9.2M531.62 142.35v9.2M534.38 140.72v9.2M537.13 139.05v9.2M539.89 137.36v9.2M542.65 135.63v9.2M545.41 133.87v9.2M548.17 132.08v9.2M550.92 130.26v9.2M553.68 128.4v9.2M556.44 126.52v9.2M559.2 124.6v9.2M561.96 122.65v9.2M564.72 120.67v9.2M567.47 118.66v9.2M570.23 116.62v9.2M575.75 112.45v9.2M581.26 108.15v9.2M586.78 103.72v9.2M589.54 101.47v9.2M592.3 99.18v9.2M600.57 92.13v9.2M603.33 89.72v9.2M608.85 84.81v9.2M614.36 79.78v9.2M617.12 77.22v9.2M622.64 72v9.2M625.39 69.35v9.2M636.43 58.44v9.2M639.19 55.64v9.2M644.7 49.95v9.2M647.46 47.06v9.2M652.98 41.19v9.2M655.73 38.21v9.2M658.49 35.2v9.2M661.25 32.16v9.2M666.77 25.99v9.2M672.28 19.7v9.2M675.04 16.52v9.2" stroke="#0a7a0a" stroke-width="1.4" fill="none"/>
<path d="M427.72 183.59h9.2M432.32 178.99v9.2M433.24 182.74h9.2M437.84 178.14v9.2M438.76 181.75h9.2M443.36 177.15v9.2M458.06 177.12h9.2M462.66 172.52v9.2M524.26 148.55h9.2M528.86 143.95v9.2M568.39 119.15h9.2M572.99 114.55v9.2M573.91 114.91h9.2M578.51 110.31v9.2M579.42 110.55h9.2M584.02 105.95v9.2M607 86.91h9.2M611.6 82.31v9.2M615.28 79.23h9.2M619.88 74.63v9.2M623.55 71.27h9.2M628.15 66.67v9.2M645.62 48.74h9.2M650.22 44.14v9.2M659.41 33.69h9.2M664.01 29.09v9.2M664.93 27.46h9.2M669.53 22.86v9.2M673.2 17.9h9.2M677.8 13.3v9.2" stroke="#22dd22" stroke-width="1.4" fill="none"/>
<path d="M408.42 185.32h9.2M413.02 180.72v9.2M422.21 184.29h9.2M426.81 179.69v9.2M430.48 183.19h9.2M435.08 178.59v9.2M444.27 180.6h9.2M448.87 176v9.2M460.82 176.32h9.2M465.42 171.72v9.2M466.34 174.61h9.2M470.94 170.01v9.2M491.16 165.23h9.2M495.76 160.63v9.2M510.47 156.07h9.2M515.07 151.47v9.2M515.98 153.16h9.2M520.58 148.56v9.2M590.46 101.46h9.2M595.06 96.86v9.2M593.21 99.11h9.2M597.81 94.51v9.2M601.49 91.88h9.2M606.09 87.28v9.2M626.31 68.56h9.2M630.91 63.96v9.2M629.07 65.82h9.2M633.67 61.22v9.2M637.34 57.41h9.2M641.94 52.81v9.2" stroke="#b04020" stroke-width="1.4" fill="none"/>
<rect x="406.95" y="184.88" width="1.1" height="1.1" fill="#0000ff"/>
<rect x="409.71" y="184.85" width="1.1" height="1.1" fill="#0000ff"/>
<rect x="415.22" y="184.65" width="1.1" height="1.1" fill="#0000ff"/>
<rect x="417.98" y="184.48" width="1.1" height="1.1" fill="#0000ff"/>
<rect x="420.74" y="184.27" width="1.1" height="1.1" fill="#0000ff"/>
<rect x="423.5" y="184.03" width="1.1" height="1.1" fill="#0000ff"/>
<rect x="429.02" y="183.41" width="1.1" height="1.1" fill="#0000ff"/>
<rect x="440.05" y="181.71" width="1.1" height="1.1" fill="#0000ff"/>
<rect x="445.56" y="180.64" width="1.1" height="1.1" fill="#0000ff"/>
<rect x="451.08" y="179.43" width="1.1" height="1.1" fill="#0000ff"/>
<rect x="453.84" y="178.77" width="1.1" height="1.1" fill="#0000ff"/>
<rect x="456.6" y="178.07" width="1.1" height="1.1" fill="#0000ff"/>
<rect x="459.36" y="177.34" width="1.1" height="1.1" fill="#0000ff"/>
<rect x="467.63" y="174.93" width="1.1" height="1.1" fill="#0000ff"/>
<rect x="473.15" y="173.15" width="1.1" height="1.1" fill="#0000ff"/>
<rect x="475.9" y="172.21" width="1.1" height="1.1" fill="#0000ff"/>
<rect x="478.66" y="171.23" width="1.1" height="1.1" fill="#0000ff"/>
<rect x="481.42" y="170.23" width="1.1" height="1.1" fill="#0000ff"/>
<rect x="484.18" y="169.18" width="1.1" height="1.1" fill="#0000ff"/>
<rect x="486.94" y="168.11" width="1.1" height="1.1" fill="#0000ff"/>
<rect x="489.69" y="167" width="1.1" height="1.1" fill="#0000ff"/>
<rect x="492.45" y="165.85" width="1.1" height="1.1" fill="#0000ff"/>
<rect x="497.97" y="163.47" width="1.1" height="1.1" fill="#0000ff"/>
<rect x="500.73" y="162.22" width="1.1" height="1.1" fill="#0000ff"/>
<rect x="503.49" y="160.95" width="1.1" height="1.1" fill="#0000ff"/>
<rect x="506.24" y="159.64" width="1.1" height="1.1" fill="#0000ff"/>
<rect x="509" y="158.3" width="1.1" height="1.1" fill="#0000ff"/>
<rect x="511.76" y="156.92" width="1.1" height="1.1" fill="#0000ff"/>
<rect x="517.28" y="154.08" width="1.1" height="1.1" fill="#0000ff"/>
<rect x="522.79" y="151.1" width="1.1" height="1.1" fill="#0000ff"/>
<rect x="525.55" y="149.57" width="1.1" height="1.1" fill="#0000ff"/>
<rect x="531.07" y="146.4" width="1.1" height="1.1" fill="#0000ff"/>
<rect x="533.83" y="144.77" width="1.1" height="1.1" fill="#0000ff"/>
<rect x="536.58" y="143.1" width="1.1" height="1.1" fill="#0000ff"/>
<rect x="539.34" y="141.41" width="1.1" height="1.1" fill="#0000ff"/>
<rect x="542.1" y="139.68" width="1.1" height="1.1" fill="#0000ff"/>
<rect x="544.86" y="137.92" width="1.1" height="1.1" fill="#0000ff"/>
<rect x="547.62" y="136.13" width="1.1" height="1.1" fill="#0000ff"/>
<rect x="550.37" y="134.31" width="1.1" height="1.1" fill="#0000ff"/>
<rect x="553.13" y="132.45" width="1.1" height="1.1" fill="#0000ff"/>
<rect x="555.89" y="130.57" width="1.1" height="1.1" fill="#0000ff"/>
<rect x="558.65" y="128.65" width="1.1" height="1.1" fill="#0000ff"/>
<rect x="561.41" y="126.7" width="1.1" height="1.1" fill="#0000ff"/>
<rect x="564.17" y="124.72" width="1.1" height="1.1" fill="#0000ff"/>
<rect x="566.92" y="122.71" width="1.1" height="1.1" fill="#0000ff"/>
<rect x="569.68" y="120.67" width="1.1" height="1.1" fill="#0000ff"/>
<rect x="575.2" y="116.5" width="1.1" height="1.1" fill="#0000ff"/>
<rect x="580.71" y="112.2" width="1.1" height="1.1" fill="#0000ff"/>
<rect x="586.23" y="107.77" width="1.1" height="1.1" fill="#0000ff"/>
<rect x="588.99" y="105.52" width="1.1" height="1.1" fill="#0000ff"/>
<rect x="591.75" y="103.23" width="1.1" height="1.1" fill="#0000ff"/>
<rect x="600.02" y="96.18" width="1.1" height="1.1" fill="#0000ff"/>
<rect x="602.78" y="93.77" width="1.1" height="1.1" fill="#0000ff"/>
<rect x="608.3" y="88.86" width="1.1" height="1.1" fill="#0000ff"/>
<rect x="613.81" y="83.83" width="1.1" height="1.1" fill="#0000ff"/>
<rect x="616.57" y="81.27" width="1.1" height="1.1" fill="#0000ff"/>
<rect x="622.09" y="76.05" width="1.1" height="1.1" fill="#0000ff"/>
<rect x="624.84" y="73.4" width="1.1" height="1.1" fill="#0000ff"/>
<rect x="635.88" y="62.49" width="1.1" height="1.1" fill="#0000ff"/>
<rect x="638.64" y="59.69" width="1.1" height="1.1" fill="#0000ff"/>
<rect x="644.15" y="54" width="1.1" height="1.1" fill="#0000ff"/>
<rect x="646.91" y="51.11" width="1.1" height="1.1" fill="#0000ff"/>
<rect x="652.43" y="45.24" width="1.1" height="1.1" fill="#0000ff"/>
<rect x="655.18" y="42.26" width="1.1" height="1.1" fill="#0000ff"/>
<rect x="657.94" y="39.25" width="1.1" height="1.1" fill="#0000ff"/>
<rect x="660.7" y="36.21" width="1.1" height="1.1" fill="#0000ff"/>
<rect x="666.22" y="30.04" width="1.1" height="1.1" fill="#0000ff"/>
<rect x="671.73" y="23.75" width="1.1" height="1.1" fill="#0000ff"/>
<rect x="674.49" y="20.57" width="1.1" height="1.1" fill="#0000ff"/>
<rect x="431.77" y="183.04" width="1.1" height="1.1" fill="#22cc22"/>
<rect x="437.29" y="182.19" width="1.1" height="1.1" fill="#22cc22"/>
<rect x="442.81" y="181.2" width="1.1" height="1.1" fill="#22cc22"/>
<rect x="462.11" y="176.57" width="1.1" height="1.1" fill="#22cc22"/>
<rect x="528.31" y="148" width="1.1" height="1.1" fill="#22cc22"/>
<rect x="572.44" y="118.6" width="1.1" height="1.1" fill="#22cc22"/>
<rect x="577.96" y="114.36" width="1.1" height="1.1" fill="#22cc22"/>
<rect x="583.47" y="110" width="1.1" height="1.1" fill="#22cc22"/>
<rect x="611.05" y="86.36" width="1.1" height="1.1" fill="#22cc22"/>
<rect x="619.33" y="78.68" width="1.1" height="1.1" fill="#22cc22"/>
<rect x="627.6" y="70.72" width="1.1" height="1.1" fill="#22cc22"/>
<rect x="649.67" y="48.19" width="1.1" height="1.1" fill="#22cc22"/>
<rect x="663.46" y="33.14" width="1.1" height="1.1" fill="#22cc22"/>
<rect x="668.98" y="26.91" width="1.1" height="1.1" fill="#22cc22"/>
<rect x="677.25" y="17.35" width="1.1" height="1.1" fill="#22cc22"/>
<rect x="412.47" y="184.77" width="1.1" height="1.1" fill="#ff0000"/>
<rect x="426.26" y="183.74" width="1.1" height="1.1" fill="#ff0000"/>
<rect x="434.53" y="182.64" width="1.1" height="1.1" fill="#ff0000"/>
<rect x="448.32" y="180.05" width="1.1" height="1.1" fill="#ff0000"/>
<rect x="464.87" y="175.77" width="1.1" height="1.1" fill="#ff0000"/>
<rect x="470.39" y="174.06" width="1.1" height="1.1" fill="#ff0000"/>
<rect x="495.21" y="164.68" width="1.1" height="1.1" fill="#ff0000"/>
<rect x="514.52" y="155.52" width="1.1" height="1.1" fill="#ff0000"/>
<rect x="520.03" y="152.61" width="1.1" height="1.1" fill="#ff0000"/>
<rect x="594.51" y="100.91" width="1.1" height="1.1" fill="#ff0000"/>
<rect x="597.26" y="98.56" width="1.1" height="1.1" fill="#ff0000"/>
<rect x="605.54" y="91.33" width="1.1" height="1.1" fill="#ff0000"/>
<rect x="630.36" y="68.01" width="1.1" height="1.1" fill="#ff0000"/>
<rect x="633.12" y="65.27" width="1.1" height="1.1" fill="#ff0000"/>
<rect x="641.39" y="56.86" width="1.1" height="1.1" fill="#ff0000"/>
<rect x="407.5" y="17.9" width="270.3" height="201.6" fill="none" stroke="#1e1e1e" stroke-width="1.2"/>
<line x1="459.91" y1="17.9" x2="459.91" y2="20.4" stroke="#262626" stroke-width="0.9" />
<line x1="459.91" y1="219.5" x2="459.91" y2="217" stroke="#262626" stroke-width="0.9" />
<line x1="515.07" y1="17.9" x2="515.07" y2="20.4" stroke="#262626" stroke-width="0.9" />
<line x1="515.07" y1="219.5" x2="515.07" y2="217" stroke="#262626" stroke-width="0.9" />
<line x1="570.23" y1="17.9" x2="570.23" y2="20.4" stroke="#262626" stroke-width="0.9" />
<line x1="570.23" y1="219.5" x2="570.23" y2="217" stroke="#262626" stroke-width="0.9" />
<line x1="625.39" y1="17.9" x2="625.39" y2="20.4" stroke="#262626" stroke-width="0.9" />
<line x1="625.39" y1="219.5" x2="625.39" y2="217" stroke="#262626" stroke-width="0.9" />
<line x1="407.5" y1="219.5" x2="410" y2="219.5" stroke="#262626" stroke-width="0.9" />
<line x1="677.8" y1="219.5" x2="675.3" y2="219.5" stroke="#262626" stroke-width="0.9" />
<text x="401.2" y="224.7" font-family='"Liberation Sans", sans-serif' font-size="14.5" fill="#4a4a4a" text-anchor="end" font-weight="normal" >0.8</text>
<line x1="407.5" y1="169.1" x2="410" y2="169.1" stroke="#262626" stroke-width="0.9" />
<line x1="677.8" y1="169.1" x2="675.3" y2="169.1" stroke="#262626" stroke-width="0.9" />
<text x="401.2" y="174.3" font-family='"Liberation Sans", sans-serif' font-size="14.5" fill="#4a4a4a" text-anchor="end" font-weight="normal" >0.85</text>
<line x1="407.5" y1="118.7" x2="410" y2="118.7" stroke="#262626" stroke-width="0.9" />
<line x1="677.8" y1="118.7" x2="675.3" y2="118.7" stroke="#262626" stroke-width="0.9" />
<text x="401.2" y="123.9" font-family='"Liberation Sans", sans-serif' font-size="14.5" fill="#4a4a4a" text-anchor="end" font-weight="normal" >0.9</text>
<line x1="407.5" y1="68.3" x2="410" y2="68.3" stroke="#262626" stroke-width="0.9" />
<line x1="677.8" y1="68.3" x2="675.3" y2="68.3" stroke="#262626" stroke-width="0.9" />
<text x="401.2" y="73.5" font-family='"Liberation Sans", sans-serif' font-size="14.5" fill="#4a4a4a" text-anchor="end" font-weight="normal" >0.95</text>
<line x1="407.5" y1="17.9" x2="410" y2="17.9" stroke="#262626" stroke-width="0.9" />
<line x1="677.8" y1="17.9" x2="675.3" y2="17.9" stroke="#262626" stroke-width="0.9" />
<text x="401.2" y="23.1" font-family='"Liberation Sans", sans-serif' font-size="14.5" fill="#4a4a4a" text-anchor="end" font-weight="normal" >1</text>
<text x="403.8" y="10.9" font-family='"Liberation Serif", serif' font-size="13" fill="#000" text-anchor="start" font-weight="bold" textLength="276" lengthAdjust="spacingAndGlyphs" >Response of Output Element 1 for Time-Series 1</text>
<text x="371.1" y="119" font-family='"Liberation Serif", serif' font-size="13.9" fill="#3a3a3a" text-anchor="middle" font-weight="normal" transform="rotate(-90 371.1 119)" stroke="#3a3a3a" stroke-width="0.1">Output and Target</text>
<path d="M405.2 312.2V265.49M406.35 312.2V318.77M407.49 312.2V349.57M408.64 312.2V360.12M409.78 312.2V355.45M410.93 312.2V344.38M412.08 312.2V328.12M413.22 312.2V311.33M414.37 312.2V296.28M415.51 312.2V287.46M416.66 312.2V286.42M417.81 312.2V289.71M418.95 312.2V299.05M420.1 312.2V312.2M421.24 312.2V322.41M422.39 312.2V328.63M423.53 312.2V329.85M424.68 312.2V325.18M425.83 312.2V316.01M426.97 312.2V303.72M428.12 312.2V295.07M429.26 312.2V292.13M430.41 312.2V295.59M431.56 312.2V303.2M432.7 312.2V314.28M433.85 312.2V321.2M434.99 312.2V324.14M436.14 312.2V319.29M437.29 312.2V312.2M438.43 312.2V304.24M439.58 312.2V299.22M440.72 312.2V298.53M441.87 312.2V304.24M443.02 312.2V310.12M444.16 312.2V318.25M445.31 312.2V321.71M446.45 312.2V319.12M447.6 312.2V313.93M448.74 312.2V307.88M449.89 312.2V303.55M451.04 312.2V302.51M452.18 312.2V304M453.33 312.2V307.97M454.47 312.2V313.05M455.62 312.2V317.52M456.77 312.2V319.85M457.91 312.2V318.96M459.06 312.2V314.54M460.2 312.2V308.79M461.35 312.2V304.66M462.5 312.2V304.14M463.64 312.2V306.72M464.79 312.2V311.28M465.93 312.2V316.19M467.08 312.2V319.72M468.23 312.2V320.61M469.37 312.2V318.33M470.52 312.2V313.57M471.66 312.2V308.02M472.81 312.2V303.65M473.96 312.2V301.99M475.1 312.2V303.52M476.25 312.2V307.54M477.39 312.2V312.57M478.54 312.2V316.77M479.68 312.2V318.59M480.83 312.2V316.88M481.98 312.2V311.98M483.12 312.2V306.76M484.27 312.2V304.26M485.41 312.2V305.47M486.56 312.2V309.3M487.71 312.2V314.48M488.85 312.2V319.3M490 312.2V322.19M491.14 312.2V322.04M492.29 312.2V318.09M493.44 312.2V311.97M494.58 312.2V306.41M495.73 312.2V303.92M496.87 312.2V305.09M498.02 312.2V308.62M499.17 312.2V312.85M500.31 312.2V315.81M501.46 312.2V316.09M502.6 312.2V313.51M503.75 312.2V309.68M504.89 312.2V307.09M506.04 312.2V307.11M507.19 312.2V308.61M508.33 312.2V310.79M509.48 312.2V312.67M510.62 312.2V313.41M511.77 312.2V312.62M512.92 312.2V310.78M514.06 312.2V309.14M515.21 312.2V308.88M516.35 312.2V310.82M517.5 312.2V312.2" stroke="#93c060" stroke-width="1.4" fill="none"/>
<line x1="405.2" y1="312.2" x2="517.5" y2="312.2" stroke="#3a4a1a" stroke-width="1" />
<circle cx="405.2" cy="265.49" r="1.25" fill="#1a7a1a"/>
<circle cx="406.35" cy="318.77" r="1.25" fill="#1a7a1a"/>
<circle cx="407.49" cy="349.57" r="1.25" fill="#1a7a1a"/>
<circle cx="408.64" cy="360.12" r="1.25" fill="#1a7a1a"/>
<circle cx="409.78" cy="355.45" r="1.25" fill="#1a7a1a"/>
<circle cx="410.93" cy="344.38" r="1.25" fill="#1a7a1a"/>
<circle cx="412.08" cy="328.12" r="1.25" fill="#1a7a1a"/>
<circle cx="413.22" cy="311.33" r="1.25" fill="#1a7a1a"/>
<circle cx="414.37" cy="296.28" r="1.25" fill="#1a7a1a"/>
<circle cx="415.51" cy="287.46" r="1.25" fill="#1a7a1a"/>
<circle cx="416.66" cy="286.42" r="1.25" fill="#1a7a1a"/>
<circle cx="417.81" cy="289.71" r="1.25" fill="#1a7a1a"/>
<circle cx="418.95" cy="299.05" r="1.25" fill="#1a7a1a"/>
<circle cx="420.1" cy="312.2" r="1.25" fill="#1a7a1a"/>
<circle cx="421.24" cy="322.41" r="1.25" fill="#1a7a1a"/>
<circle cx="422.39" cy="328.63" r="1.25" fill="#1a7a1a"/>
<circle cx="423.53" cy="329.85" r="1.25" fill="#1a7a1a"/>
<circle cx="424.68" cy="325.18" r="1.25" fill="#1a7a1a"/>
<circle cx="425.83" cy="316.01" r="1.25" fill="#1a7a1a"/>
<circle cx="426.97" cy="303.72" r="1.25" fill="#1a7a1a"/>
<circle cx="428.12" cy="295.07" r="1.25" fill="#1a7a1a"/>
<circle cx="429.26" cy="292.13" r="1.25" fill="#1a7a1a"/>
<circle cx="430.41" cy="295.59" r="1.25" fill="#1a7a1a"/>
<circle cx="431.56" cy="303.2" r="1.25" fill="#1a7a1a"/>
<circle cx="432.7" cy="314.28" r="1.25" fill="#1a7a1a"/>
<circle cx="433.85" cy="321.2" r="1.25" fill="#1a7a1a"/>
<circle cx="434.99" cy="324.14" r="1.25" fill="#1a7a1a"/>
<circle cx="436.14" cy="319.29" r="1.25" fill="#1a7a1a"/>
<circle cx="437.29" cy="312.2" r="1.25" fill="#1a7a1a"/>
<circle cx="438.43" cy="304.24" r="1.25" fill="#1a7a1a"/>
<circle cx="439.58" cy="299.22" r="1.25" fill="#1a7a1a"/>
<circle cx="440.72" cy="298.53" r="1.25" fill="#1a7a1a"/>
<circle cx="441.87" cy="304.24" r="1.25" fill="#1a7a1a"/>
<circle cx="443.02" cy="310.12" r="1.25" fill="#1a7a1a"/>
<circle cx="444.16" cy="318.25" r="1.25" fill="#1a7a1a"/>
<circle cx="445.31" cy="321.71" r="1.25" fill="#1a7a1a"/>
<circle cx="446.45" cy="319.12" r="1.25" fill="#1a7a1a"/>
<circle cx="447.6" cy="313.93" r="1.25" fill="#1a7a1a"/>
<circle cx="448.74" cy="307.88" r="1.25" fill="#1a7a1a"/>
<circle cx="449.89" cy="303.55" r="1.25" fill="#1a7a1a"/>
<circle cx="451.04" cy="302.51" r="1.25" fill="#1a7a1a"/>
<circle cx="452.18" cy="304" r="1.25" fill="#1a7a1a"/>
<circle cx="453.33" cy="307.97" r="1.25" fill="#1a7a1a"/>
<circle cx="454.47" cy="313.05" r="1.25" fill="#1a7a1a"/>
<circle cx="455.62" cy="317.52" r="1.25" fill="#1a7a1a"/>
<circle cx="456.77" cy="319.85" r="1.25" fill="#1a7a1a"/>
<circle cx="457.91" cy="318.96" r="1.25" fill="#1a7a1a"/>
<circle cx="459.06" cy="314.54" r="1.25" fill="#1a7a1a"/>
<circle cx="460.2" cy="308.79" r="1.25" fill="#1a7a1a"/>
<circle cx="461.35" cy="304.66" r="1.25" fill="#1a7a1a"/>
<circle cx="462.5" cy="304.14" r="1.25" fill="#1a7a1a"/>
<circle cx="463.64" cy="306.72" r="1.25" fill="#1a7a1a"/>
<circle cx="464.79" cy="311.28" r="1.25" fill="#1a7a1a"/>
<circle cx="465.93" cy="316.19" r="1.25" fill="#1a7a1a"/>
<circle cx="467.08" cy="319.72" r="1.25" fill="#1a7a1a"/>
<circle cx="468.23" cy="320.61" r="1.25" fill="#1a7a1a"/>
<circle cx="469.37" cy="318.33" r="1.25" fill="#1a7a1a"/>
<circle cx="470.52" cy="313.57" r="1.25" fill="#1a7a1a"/>
<circle cx="471.66" cy="308.02" r="1.25" fill="#1a7a1a"/>
<circle cx="472.81" cy="303.65" r="1.25" fill="#1a7a1a"/>
<circle cx="473.96" cy="301.99" r="1.25" fill="#1a7a1a"/>
<circle cx="475.1" cy="303.52" r="1.25" fill="#1a7a1a"/>
<circle cx="476.25" cy="307.54" r="1.25" fill="#1a7a1a"/>
<circle cx="477.39" cy="312.57" r="1.25" fill="#1a7a1a"/>
<circle cx="478.54" cy="316.77" r="1.25" fill="#1a7a1a"/>
<circle cx="479.68" cy="318.59" r="1.25" fill="#1a7a1a"/>
<circle cx="480.83" cy="316.88" r="1.25" fill="#1a7a1a"/>
<circle cx="481.98" cy="311.98" r="1.25" fill="#1a7a1a"/>
<circle cx="483.12" cy="306.76" r="1.25" fill="#1a7a1a"/>
<circle cx="484.27" cy="304.26" r="1.25" fill="#1a7a1a"/>
<circle cx="485.41" cy="305.47" r="1.25" fill="#1a7a1a"/>
<circle cx="486.56" cy="309.3" r="1.25" fill="#1a7a1a"/>
<circle cx="487.71" cy="314.48" r="1.25" fill="#1a7a1a"/>
<circle cx="488.85" cy="319.3" r="1.25" fill="#1a7a1a"/>
<circle cx="490" cy="322.19" r="1.25" fill="#1a7a1a"/>
<circle cx="491.14" cy="322.04" r="1.25" fill="#1a7a1a"/>
<circle cx="492.29" cy="318.09" r="1.25" fill="#1a7a1a"/>
<circle cx="493.44" cy="311.97" r="1.25" fill="#1a7a1a"/>
<circle cx="494.58" cy="306.41" r="1.25" fill="#1a7a1a"/>
<circle cx="495.73" cy="303.92" r="1.25" fill="#1a7a1a"/>
<circle cx="496.87" cy="305.09" r="1.25" fill="#1a7a1a"/>
<circle cx="498.02" cy="308.62" r="1.25" fill="#1a7a1a"/>
<circle cx="499.17" cy="312.85" r="1.25" fill="#1a7a1a"/>
<circle cx="500.31" cy="315.81" r="1.25" fill="#1a7a1a"/>
<circle cx="501.46" cy="316.09" r="1.25" fill="#1a7a1a"/>
<circle cx="502.6" cy="313.51" r="1.25" fill="#1a7a1a"/>
<circle cx="503.75" cy="309.68" r="1.25" fill="#1a7a1a"/>
<circle cx="504.89" cy="307.09" r="1.25" fill="#1a7a1a"/>
<circle cx="506.04" cy="307.11" r="1.25" fill="#1a7a1a"/>
<circle cx="507.19" cy="308.61" r="1.25" fill="#1a7a1a"/>
<circle cx="508.33" cy="310.79" r="1.25" fill="#1a7a1a"/>
<circle cx="509.48" cy="312.67" r="1.25" fill="#1a7a1a"/>
<circle cx="510.62" cy="313.41" r="1.25" fill="#1a7a1a"/>
<circle cx="511.77" cy="312.62" r="1.25" fill="#1a7a1a"/>
<circle cx="512.92" cy="310.78" r="1.25" fill="#1a7a1a"/>
<circle cx="514.06" cy="309.14" r="1.25" fill="#1a7a1a"/>
<circle cx="515.21" cy="308.88" r="1.25" fill="#1a7a1a"/>
<circle cx="516.35" cy="310.82" r="1.25" fill="#1a7a1a"/>
<circle cx="517.5" cy="312.2" r="1.25" fill="#1a7a1a"/>
<rect x="405.2" y="242.4" width="112.3" height="116" fill="none" stroke="#1e1e1e" stroke-width="1.2"/>
<line x1="426.97" y1="242.4" x2="426.97" y2="244.4" stroke="#262626" stroke-width="0.8" />
<line x1="426.97" y1="358.4" x2="426.97" y2="356.4" stroke="#262626" stroke-width="0.8" />
<text x="426.97" y="373.6" font-family='"Liberation Sans", sans-serif' font-size="11.5" fill="#4a4a4a" text-anchor="middle" font-weight="normal" >20</text>
<line x1="449.89" y1="242.4" x2="449.89" y2="244.4" stroke="#262626" stroke-width="0.8" />
<line x1="449.89" y1="358.4" x2="449.89" y2="356.4" stroke="#262626" stroke-width="0.8" />
<text x="449.89" y="373.6" font-family='"Liberation Sans", sans-serif' font-size="11.5" fill="#4a4a4a" text-anchor="middle" font-weight="normal" >40</text>
<line x1="472.81" y1="242.4" x2="472.81" y2="244.4" stroke="#262626" stroke-width="0.8" />
<line x1="472.81" y1="358.4" x2="472.81" y2="356.4" stroke="#262626" stroke-width="0.8" />
<text x="472.81" y="373.6" font-family='"Liberation Sans", sans-serif' font-size="11.5" fill="#4a4a4a" text-anchor="middle" font-weight="normal" >60</text>
<line x1="495.73" y1="242.4" x2="495.73" y2="244.4" stroke="#262626" stroke-width="0.8" />
<line x1="495.73" y1="358.4" x2="495.73" y2="356.4" stroke="#262626" stroke-width="0.8" />
<text x="495.73" y="373.6" font-family='"Liberation Sans", sans-serif' font-size="11.5" fill="#4a4a4a" text-anchor="middle" font-weight="normal" >80</text>
<line x1="405.2" y1="346.8" x2="407.2" y2="346.8" stroke="#262626" stroke-width="0.8" />
<line x1="517.5" y1="346.8" x2="515.5" y2="346.8" stroke="#262626" stroke-width="0.8" />
<text x="401.6" y="350.9" font-family='"Liberation Sans", sans-serif' font-size="11.5" fill="#4a4a4a" text-anchor="end" font-weight="normal" >-2</text>
<line x1="405.2" y1="312.2" x2="407.2" y2="312.2" stroke="#262626" stroke-width="0.8" />
<line x1="517.5" y1="312.2" x2="515.5" y2="312.2" stroke="#262626" stroke-width="0.8" />
<text x="401.6" y="316.3" font-family='"Liberation Sans", sans-serif' font-size="11.5" fill="#4a4a4a" text-anchor="end" font-weight="normal" >0</text>
<line x1="405.2" y1="277.6" x2="407.2" y2="277.6" stroke="#262626" stroke-width="0.8" />
<line x1="517.5" y1="277.6" x2="515.5" y2="277.6" stroke="#262626" stroke-width="0.8" />
<text x="401.6" y="281.7" font-family='"Liberation Sans", sans-serif' font-size="11.5" fill="#4a4a4a" text-anchor="end" font-weight="normal" >2</text>
<line x1="405.2" y1="243" x2="407.2" y2="243" stroke="#262626" stroke-width="0.8" />
<line x1="517.5" y1="243" x2="515.5" y2="243" stroke="#262626" stroke-width="0.8" />
<text x="401.6" y="247.1" font-family='"Liberation Sans", sans-serif' font-size="11.5" fill="#4a4a4a" text-anchor="end" font-weight="normal" >4</text>
<text x="0" y="0" font-family='"Liberation Serif", serif' font-size="13.3" fill="#444" text-anchor="middle" font-weight="normal" transform="translate(461.3 386) scale(1 1.1)" >Time</text>
<text x="371.6" y="300.2" font-family='"Liberation Serif", serif' font-size="13.5" fill="#3a3a3a" text-anchor="middle" font-weight="normal" transform="rotate(-90 371.6 300.2)" stroke="#3a3a3a" stroke-width="0.12">Error</text>
<text x="405.5" y="238.4" font-family='"Liberation Sans", sans-serif' font-size="12.3" fill="#4a4a4a"><tspan fill="#777">×</tspan><tspan dx="2.2">10</tspan><tspan font-size="9" dy="-5.2" dx="0.6">-5</tspan></text>
<rect x="517.5" y="219.5" width="160.1" height="170.7" fill="#fff" stroke="#1e1e1e" stroke-width="1.15"/>
<rect x="542.8" y="231.6" width="2" height="2" fill="#0000ff"/>
<text x="569.3" y="237.7" font-family='"Liberation Sans", sans-serif' font-size="12.8" fill="#222" text-anchor="start" font-weight="normal" >Training Targets</text>
<path d="M539.2 253.4h9.2M543.8 248.8v9.2" stroke="#0a7a0a" stroke-width="1.3" fill="none"/>
<text x="569.3" y="258.5" font-family='"Liberation Sans", sans-serif' font-size="12.8" fill="#222" text-anchor="start" font-weight="normal" >Training Outputs</text>
<rect x="542.8" y="273.2" width="2" height="2" fill="#22cc22"/>
<text x="569.3" y="279.3" font-family='"Liberation Sans", sans-serif' font-size="12.8" fill="#222" text-anchor="start" font-weight="normal" >Validation Targets</text>
<path d="M539.2 295h9.2M543.8 290.4v9.2" stroke="#22dd22" stroke-width="1.3" fill="none"/>
<text x="569.3" y="300.1" font-family='"Liberation Sans", sans-serif' font-size="12.8" fill="#222" text-anchor="start" font-weight="normal" >Validation Outputs</text>
<rect x="542.8" y="314.8" width="2" height="2" fill="#ff0000"/>
<text x="569.3" y="320.9" font-family='"Liberation Sans", sans-serif' font-size="12.8" fill="#222" text-anchor="start" font-weight="normal" >Test Targets</text>
<path d="M539.2 336.6h9.2M543.8 332v9.2" stroke="#a0401a" stroke-width="1.3" fill="none"/>
<text x="569.3" y="341.7" font-family='"Liberation Sans", sans-serif' font-size="12.8" fill="#222" text-anchor="start" font-weight="normal" >Test Outputs</text>
<line x1="521.8" y1="357.4" x2="566.2" y2="357.4" stroke="#ff9900" stroke-width="3" />
<text x="569.3" y="362.5" font-family='"Liberation Sans", sans-serif' font-size="12.8" fill="#222" text-anchor="start" font-weight="normal" >Errors</text>
<line x1="521.8" y1="378.2" x2="566.2" y2="378.2" stroke="#555" stroke-width="1.6" />
<text x="569.3" y="383.3" font-family='"Liberation Sans", sans-serif' font-size="12.8" fill="#222" text-anchor="start" font-weight="normal" >Response</text>
<rect x="402.6" y="390.2" width="275" height="38.9" fill="#fff" stroke="#1e1e1e" stroke-width="1.15"/>
<rect x="491.4" y="399.5" width="2" height="2" fill="#1a7a1a"/>
<text x="518.6" y="405.1" font-family='"Liberation Sans", sans-serif' font-size="12.8" fill="#222" text-anchor="start" font-weight="normal" >Targets - Outputs</text>
<line x1="469" y1="419" x2="500.8" y2="419" stroke="#a6cf7e" stroke-width="2" />
<path d="M403.2 711.7h8.8M408.68 711.58h8.8M411.41 711.45h8.8M416.89 711.03h8.8M419.63 710.75h8.8M425.1 710.05h8.8M427.84 709.63h8.8M430.58 709.17h8.8M436.05 708.11h8.8M438.79 707.51h8.8M444.27 706.19h8.8M447 705.46h8.8M452.48 703.88h8.8M455.22 703.02h8.8M457.96 702.12h8.8M460.69 701.18h8.8M466.17 699.17h8.8M468.91 698.11h8.8M471.64 697h8.8M477.12 694.66h8.8M479.86 693.43h8.8M482.59 692.15h8.8M488.07 689.48h8.8M490.81 688.09h8.8M493.55 686.65h8.8M496.28 685.17h8.8M501.76 682.09h8.8M504.5 680.5h8.8M509.97 677.18h8.8M512.71 675.46h8.8M515.45 673.7h8.8M518.19 671.9h8.8M523.66 668.18h8.8M526.4 666.26h8.8M531.87 662.3h8.8M534.61 660.27h8.8M540.09 656.07h8.8M542.83 653.92h8.8M548.3 649.49h8.8M551.04 647.21h8.8M553.78 644.9h8.8M559.25 640.16h8.8M561.99 637.73h8.8M567.47 632.76h8.8M570.2 630.21h8.8M575.68 625h8.8M578.42 622.34h8.8M583.89 616.9h8.8M589.37 611.31h8.8M592.11 608.46h8.8M597.58 602.63h8.8M600.32 599.67h8.8M605.79 593.61h8.8M608.53 590.53h8.8M614.01 584.25h8.8M619.48 577.82h8.8M622.22 574.55h8.8M624.96 571.24h8.8M630.43 564.5h8.8M635.91 557.62h8.8M638.65 554.12h8.8M644.12 547.01h8.8M649.6 539.74h8.8M652.34 536.06h8.8M655.07 532.33h8.8M657.81 528.57h8.8M663.29 520.93h8.8M668.76 513.15h8.8M671.5 509.2h8.8" stroke="#0a7a0a" stroke-width="1.3" fill="none"/>
<polyline points="407.6,711.7 410.34,711.67 413.08,711.58 415.81,711.45 418.55,711.26 421.29,711.03 424.03,710.75 426.76,710.42 429.5,710.05 432.24,709.63 434.98,709.17 437.72,708.66 440.45,708.11 443.19,707.51 445.93,706.87 448.67,706.19 451.4,705.46 454.14,704.69 456.88,703.88 459.62,703.02 462.36,702.12 465.09,701.18 467.83,700.2 470.57,699.17 473.31,698.11 476.04,697 478.78,695.85 481.52,694.66 484.26,693.43 486.99,692.15 489.73,690.84 492.47,689.48 495.21,688.09 497.95,686.65 500.68,685.17 503.42,683.65 506.16,682.09 508.9,680.5 511.63,678.86 514.37,677.18 517.11,675.46 519.85,673.7 522.59,671.9 525.32,670.06 528.06,668.18 530.8,666.26 533.54,664.3 536.27,662.3 539.01,660.27 541.75,658.19 544.49,656.07 547.23,653.92 549.96,651.72 552.7,649.49 555.44,647.21 558.18,644.9 560.91,642.55 563.65,640.16 566.39,637.73 569.13,635.26 571.87,632.76 574.6,630.21 577.34,627.63 580.08,625 582.82,622.34 585.55,619.64 588.29,616.9 591.03,614.13 593.77,611.31 596.51,608.46 599.24,605.56 601.98,602.63 604.72,599.67 607.46,596.66 610.19,593.61 612.93,590.53 615.67,587.41 618.41,584.25 621.14,581.06 623.88,577.82 626.62,574.55 629.36,571.24 632.1,567.89 634.83,564.5 637.57,561.08 640.31,557.62 643.05,554.12 645.78,550.58 648.52,547.01 651.26,543.39 654,539.74 656.74,536.06 659.47,532.33 662.21,528.57 664.95,524.77 667.69,520.93 670.42,517.06 673.16,513.15 675.9,509.2" fill="none" stroke="#2ad42a" stroke-width="2.4"/>
<path d="M407.6 707.3v8.8M413.08 707.18v8.8M415.81 707.05v8.8M421.29 706.63v8.8M424.03 706.35v8.8M429.5 705.65v8.8M432.24 705.23v8.8M434.98 704.77v8.8M440.45 703.71v8.8M443.19 703.11v8.8M448.67 701.79v8.8M451.4 701.06v8.8M456.88 699.48v8.8M459.62 698.62v8.8M462.36 697.72v8.8M465.09 696.78v8.8M470.57 694.77v8.8M473.31 693.71v8.8M476.04 692.6v8.8M481.52 690.26v8.8M484.26 689.03v8.8M486.99 687.75v8.8M492.47 685.08v8.8M495.21 683.69v8.8M497.95 682.25v8.8M500.68 680.77v8.8M506.16 677.69v8.8M508.9 676.1v8.8M514.37 672.78v8.8M517.11 671.06v8.8M519.85 669.3v8.8M522.59 667.5v8.8M528.06 663.78v8.8M530.8 661.86v8.8M536.27 657.9v8.8M539.01 655.87v8.8M544.49 651.67v8.8M547.23 649.52v8.8M552.7 645.09v8.8M555.44 642.81v8.8M558.18 640.5v8.8M563.65 635.76v8.8M566.39 633.33v8.8M571.87 628.36v8.8M574.6 625.81v8.8M580.08 620.6v8.8M582.82 617.94v8.8M588.29 612.5v8.8M593.77 606.91v8.8M596.51 604.06v8.8M601.98 598.23v8.8M604.72 595.27v8.8M610.19 589.21v8.8M612.93 586.13v8.8M618.41 579.85v8.8M623.88 573.42v8.8M626.62 570.15v8.8M629.36 566.84v8.8M634.83 560.1v8.8M640.31 553.22v8.8M643.05 549.72v8.8M648.52 542.61v8.8M654 535.34v8.8M656.74 531.66v8.8M659.47 527.93v8.8M662.21 524.17v8.8M667.69 516.53v8.8M673.16 508.75v8.8M675.9 504.8v8.8" stroke="#0a7a0a" stroke-width="1.3" fill="none"/>
<path d="M405.94 711.67h8.8M410.34 707.27v8.8M422.36 710.42h8.8M426.76 706.02v8.8M441.53 706.87h8.8M445.93 702.47v8.8M463.43 700.2h8.8M467.83 695.8v8.8M485.33 690.84h8.8M489.73 686.44v8.8M507.23 678.86h8.8M511.63 674.46v8.8M529.14 664.3h8.8M533.54 659.9v8.8M545.56 651.72h8.8M549.96 647.32v8.8M564.73 635.26h8.8M569.13 630.86v8.8M581.15 619.64h8.8M585.55 615.24v8.8M594.84 605.56h8.8M599.24 601.16v8.8M611.27 587.41h8.8M615.67 583.01v8.8M627.7 567.89h8.8M632.1 563.49v8.8M641.38 550.58h8.8M645.78 546.18v8.8M666.02 517.06h8.8M670.42 512.66v8.8" stroke="#22dd22" stroke-width="1.3" fill="none"/>
<path d="M414.15 711.26h8.8M418.55 706.86v8.8M433.32 708.66h8.8M437.72 704.26v8.8M449.74 704.69h8.8M454.14 700.29v8.8M474.38 695.85h8.8M478.78 691.45v8.8M499.02 683.65h8.8M503.42 679.25v8.8M520.92 670.06h8.8M525.32 665.66v8.8M537.35 658.19h8.8M541.75 653.79v8.8M556.51 642.55h8.8M560.91 638.15v8.8M572.94 627.63h8.8M577.34 623.23v8.8M586.63 614.13h8.8M591.03 609.73v8.8M603.06 596.66h8.8M607.46 592.26v8.8M616.74 581.06h8.8M621.14 576.66v8.8M633.17 561.08h8.8M637.57 556.68v8.8M646.86 543.39h8.8M651.26 538.99v8.8M660.55 524.77h8.8M664.95 520.37v8.8" stroke="#77ac30" stroke-width="1.3" fill="none"/>
<rect x="406.85" y="710.95" width="1.5" height="1.5" fill="#0000ff"/>
<rect x="412.33" y="710.83" width="1.5" height="1.5" fill="#0000ff"/>
<rect x="415.06" y="710.7" width="1.5" height="1.5" fill="#0000ff"/>
<rect x="420.54" y="710.28" width="1.5" height="1.5" fill="#0000ff"/>
<rect x="423.28" y="710" width="1.5" height="1.5" fill="#0000ff"/>
<rect x="428.75" y="709.3" width="1.5" height="1.5" fill="#0000ff"/>
<rect x="431.49" y="708.88" width="1.5" height="1.5" fill="#0000ff"/>
<rect x="434.23" y="708.42" width="1.5" height="1.5" fill="#0000ff"/>
<rect x="439.7" y="707.36" width="1.5" height="1.5" fill="#0000ff"/>
<rect x="442.44" y="706.76" width="1.5" height="1.5" fill="#0000ff"/>
<rect x="447.92" y="705.44" width="1.5" height="1.5" fill="#0000ff"/>
<rect x="450.65" y="704.71" width="1.5" height="1.5" fill="#0000ff"/>
<rect x="456.13" y="703.13" width="1.5" height="1.5" fill="#0000ff"/>
<rect x="458.87" y="702.27" width="1.5" height="1.5" fill="#0000ff"/>
<rect x="461.61" y="701.37" width="1.5" height="1.5" fill="#0000ff"/>
<rect x="464.34" y="700.43" width="1.5" height="1.5" fill="#0000ff"/>
<rect x="469.82" y="698.42" width="1.5" height="1.5" fill="#0000ff"/>
<rect x="472.56" y="697.36" width="1.5" height="1.5" fill="#0000ff"/>
<rect x="475.29" y="696.25" width="1.5" height="1.5" fill="#0000ff"/>
<rect x="480.77" y="693.91" width="1.5" height="1.5" fill="#0000ff"/>
<rect x="483.51" y="692.68" width="1.5" height="1.5" fill="#0000ff"/>
<rect x="486.24" y="691.4" width="1.5" height="1.5" fill="#0000ff"/>
<rect x="491.72" y="688.73" width="1.5" height="1.5" fill="#0000ff"/>
<rect x="494.46" y="687.34" width="1.5" height="1.5" fill="#0000ff"/>
<rect x="497.2" y="685.9" width="1.5" height="1.5" fill="#0000ff"/>
<rect x="499.93" y="684.42" width="1.5" height="1.5" fill="#0000ff"/>
<rect x="505.41" y="681.34" width="1.5" height="1.5" fill="#0000ff"/>
<rect x="508.15" y="679.75" width="1.5" height="1.5" fill="#0000ff"/>
<rect x="513.62" y="676.43" width="1.5" height="1.5" fill="#0000ff"/>
<rect x="516.36" y="674.71" width="1.5" height="1.5" fill="#0000ff"/>
<rect x="519.1" y="672.95" width="1.5" height="1.5" fill="#0000ff"/>
<rect x="521.84" y="671.15" width="1.5" height="1.5" fill="#0000ff"/>
<rect x="527.31" y="667.43" width="1.5" height="1.5" fill="#0000ff"/>
<rect x="530.05" y="665.51" width="1.5" height="1.5" fill="#0000ff"/>
<rect x="535.52" y="661.55" width="1.5" height="1.5" fill="#0000ff"/>
<rect x="538.26" y="659.52" width="1.5" height="1.5" fill="#0000ff"/>
<rect x="543.74" y="655.32" width="1.5" height="1.5" fill="#0000ff"/>
<rect x="546.48" y="653.17" width="1.5" height="1.5" fill="#0000ff"/>
<rect x="551.95" y="648.74" width="1.5" height="1.5" fill="#0000ff"/>
<rect x="554.69" y="646.46" width="1.5" height="1.5" fill="#0000ff"/>
<rect x="557.43" y="644.15" width="1.5" height="1.5" fill="#0000ff"/>
<rect x="562.9" y="639.41" width="1.5" height="1.5" fill="#0000ff"/>
<rect x="565.64" y="636.98" width="1.5" height="1.5" fill="#0000ff"/>
<rect x="571.12" y="632.01" width="1.5" height="1.5" fill="#0000ff"/>
<rect x="573.85" y="629.46" width="1.5" height="1.5" fill="#0000ff"/>
<rect x="579.33" y="624.25" width="1.5" height="1.5" fill="#0000ff"/>
<rect x="582.07" y="621.59" width="1.5" height="1.5" fill="#0000ff"/>
<rect x="587.54" y="616.15" width="1.5" height="1.5" fill="#0000ff"/>
<rect x="593.02" y="610.56" width="1.5" height="1.5" fill="#0000ff"/>
<rect x="595.76" y="607.71" width="1.5" height="1.5" fill="#0000ff"/>
<rect x="601.23" y="601.88" width="1.5" height="1.5" fill="#0000ff"/>
<rect x="603.97" y="598.92" width="1.5" height="1.5" fill="#0000ff"/>
<rect x="609.44" y="592.86" width="1.5" height="1.5" fill="#0000ff"/>
<rect x="612.18" y="589.78" width="1.5" height="1.5" fill="#0000ff"/>
<rect x="617.66" y="583.5" width="1.5" height="1.5" fill="#0000ff"/>
<rect x="623.13" y="577.07" width="1.5" height="1.5" fill="#0000ff"/>
<rect x="625.87" y="573.8" width="1.5" height="1.5" fill="#0000ff"/>
<rect x="628.61" y="570.49" width="1.5" height="1.5" fill="#0000ff"/>
<rect x="634.08" y="563.75" width="1.5" height="1.5" fill="#0000ff"/>
<rect x="639.56" y="556.87" width="1.5" height="1.5" fill="#0000ff"/>
<rect x="642.3" y="553.37" width="1.5" height="1.5" fill="#0000ff"/>
<rect x="647.77" y="546.26" width="1.5" height="1.5" fill="#0000ff"/>
<rect x="653.25" y="538.99" width="1.5" height="1.5" fill="#0000ff"/>
<rect x="655.99" y="535.31" width="1.5" height="1.5" fill="#0000ff"/>
<rect x="658.72" y="531.58" width="1.5" height="1.5" fill="#0000ff"/>
<rect x="661.46" y="527.82" width="1.5" height="1.5" fill="#0000ff"/>
<rect x="666.94" y="520.18" width="1.5" height="1.5" fill="#0000ff"/>
<rect x="672.41" y="512.4" width="1.5" height="1.5" fill="#0000ff"/>
<rect x="675.15" y="508.45" width="1.5" height="1.5" fill="#0000ff"/>
<rect x="409.59" y="710.92" width="1.5" height="1.5" fill="#22cc22"/>
<rect x="426.01" y="709.67" width="1.5" height="1.5" fill="#22cc22"/>
<rect x="445.18" y="706.12" width="1.5" height="1.5" fill="#22cc22"/>
<rect x="467.08" y="699.45" width="1.5" height="1.5" fill="#22cc22"/>
<rect x="488.98" y="690.09" width="1.5" height="1.5" fill="#22cc22"/>
<rect x="510.88" y="678.11" width="1.5" height="1.5" fill="#22cc22"/>
<rect x="532.79" y="663.55" width="1.5" height="1.5" fill="#22cc22"/>
<rect x="549.21" y="650.97" width="1.5" height="1.5" fill="#22cc22"/>
<rect x="568.38" y="634.51" width="1.5" height="1.5" fill="#22cc22"/>
<rect x="584.8" y="618.89" width="1.5" height="1.5" fill="#22cc22"/>
<rect x="598.49" y="604.81" width="1.5" height="1.5" fill="#22cc22"/>
<rect x="614.92" y="586.66" width="1.5" height="1.5" fill="#22cc22"/>
<rect x="631.35" y="567.14" width="1.5" height="1.5" fill="#22cc22"/>
<rect x="645.03" y="549.83" width="1.5" height="1.5" fill="#22cc22"/>
<rect x="669.67" y="516.31" width="1.5" height="1.5" fill="#22cc22"/>
<rect x="417.8" y="710.51" width="1.5" height="1.5" fill="#ff0000"/>
<rect x="436.97" y="707.91" width="1.5" height="1.5" fill="#ff0000"/>
<rect x="453.39" y="703.94" width="1.5" height="1.5" fill="#ff0000"/>
<rect x="478.03" y="695.1" width="1.5" height="1.5" fill="#ff0000"/>
<rect x="502.67" y="682.9" width="1.5" height="1.5" fill="#ff0000"/>
<rect x="524.57" y="669.31" width="1.5" height="1.5" fill="#ff0000"/>
<rect x="541" y="657.44" width="1.5" height="1.5" fill="#ff0000"/>
<rect x="560.16" y="641.8" width="1.5" height="1.5" fill="#ff0000"/>
<rect x="576.59" y="626.88" width="1.5" height="1.5" fill="#ff0000"/>
<rect x="590.28" y="613.38" width="1.5" height="1.5" fill="#ff0000"/>
<rect x="606.71" y="595.91" width="1.5" height="1.5" fill="#ff0000"/>
<rect x="620.39" y="580.31" width="1.5" height="1.5" fill="#ff0000"/>
<rect x="636.82" y="560.33" width="1.5" height="1.5" fill="#ff0000"/>
<rect x="650.51" y="542.64" width="1.5" height="1.5" fill="#ff0000"/>
<rect x="664.2" y="524.02" width="1.5" height="1.5" fill="#ff0000"/>
<rect x="407.6" y="509.2" width="268.3" height="202.5" fill="none" stroke="#1e1e1e" stroke-width="1.2"/>
<line x1="459.62" y1="509.2" x2="459.62" y2="511.7" stroke="#262626" stroke-width="0.9" />
<line x1="459.62" y1="711.7" x2="459.62" y2="709.2" stroke="#262626" stroke-width="0.9" />
<line x1="514.37" y1="509.2" x2="514.37" y2="511.7" stroke="#262626" stroke-width="0.9" />
<line x1="514.37" y1="711.7" x2="514.37" y2="709.2" stroke="#262626" stroke-width="0.9" />
<line x1="569.13" y1="509.2" x2="569.13" y2="511.7" stroke="#262626" stroke-width="0.9" />
<line x1="569.13" y1="711.7" x2="569.13" y2="709.2" stroke="#262626" stroke-width="0.9" />
<line x1="623.88" y1="509.2" x2="623.88" y2="511.7" stroke="#262626" stroke-width="0.9" />
<line x1="623.88" y1="711.7" x2="623.88" y2="709.2" stroke="#262626" stroke-width="0.9" />
<line x1="407.6" y1="711.7" x2="410.1" y2="711.7" stroke="#262626" stroke-width="0.9" />
<line x1="675.9" y1="711.7" x2="673.4" y2="711.7" stroke="#262626" stroke-width="0.9" />
<text x="401.2" y="716.9" font-family='"Liberation Sans", sans-serif' font-size="14.5" fill="#4a4a4a" text-anchor="end" font-weight="normal" >0.8</text>
<line x1="407.6" y1="661.08" x2="410.1" y2="661.08" stroke="#262626" stroke-width="0.9" />
<line x1="675.9" y1="661.08" x2="673.4" y2="661.08" stroke="#262626" stroke-width="0.9" />
<text x="401.2" y="666.28" font-family='"Liberation Sans", sans-serif' font-size="14.5" fill="#4a4a4a" text-anchor="end" font-weight="normal" >0.85</text>
<line x1="407.6" y1="610.45" x2="410.1" y2="610.45" stroke="#262626" stroke-width="0.9" />
<line x1="675.9" y1="610.45" x2="673.4" y2="610.45" stroke="#262626" stroke-width="0.9" />
<text x="401.2" y="615.65" font-family='"Liberation Sans", sans-serif' font-size="14.5" fill="#4a4a4a" text-anchor="end" font-weight="normal" >0.9</text>
<line x1="407.6" y1="559.83" x2="410.1" y2="559.83" stroke="#262626" stroke-width="0.9" />
<line x1="675.9" y1="559.83" x2="673.4" y2="559.83" stroke="#262626" stroke-width="0.9" />
<text x="401.2" y="565.03" font-family='"Liberation Sans", sans-serif' font-size="14.5" fill="#4a4a4a" text-anchor="end" font-weight="normal" >0.95</text>
<line x1="407.6" y1="509.2" x2="410.1" y2="509.2" stroke="#262626" stroke-width="0.9" />
<line x1="675.9" y1="509.2" x2="673.4" y2="509.2" stroke="#262626" stroke-width="0.9" />
<text x="401.2" y="514.4" font-family='"Liberation Sans", sans-serif' font-size="14.5" fill="#4a4a4a" text-anchor="end" font-weight="normal" >1</text>
<text x="404" y="502.7" font-family='"Liberation Serif", serif' font-size="13" fill="#000" text-anchor="start" font-weight="bold" textLength="276" lengthAdjust="spacingAndGlyphs" >Response of Output Element 1 for Time-Series 1</text>
<text x="371.6" y="610.8" font-family='"Liberation Serif", serif' font-size="13.9" fill="#3a3a3a" text-anchor="middle" font-weight="normal" transform="rotate(-90 371.6 610.8)" stroke="#3a3a3a" stroke-width="0.1">Output and Target</text>
<path d="M406.3 801.3V775.95M407.36 801.3V812.67M408.42 801.3V830.88M409.48 801.3V835.42M410.54 801.3V826.32M411.61 801.3V811.7M412.67 801.3V796.1M413.73 801.3V786.02M414.79 801.3V787M415.85 801.3V793.5M416.91 801.3V805.2M417.97 801.3V815.27M419.03 801.3V817.22M420.1 801.3V809.75M421.16 801.3V798.05M422.22 801.3V788.95M423.28 801.3V787.97M424.34 801.3V797.07M425.4 801.3V809.75M426.46 801.3V819.82M427.52 801.3V814.3M428.59 801.3V802.6M429.65 801.3V793.5M430.71 801.3V789.92M431.77 801.3V794.8M432.83 801.3V801.3M433.89 801.3V805.2M434.95 801.3V807.15M436.01 801.3V806.61M437.08 801.3V805.12M438.14 801.3V803.09M439.2 801.3V801.06M440.26 801.3V799.57M441.32 801.3V799.02M442.38 801.3V799.13M443.44 801.3V799.43M444.5 801.3V799.84M445.57 801.3V800.24M446.63 801.3V800.54M447.69 801.3V800.65M448.75 801.3V800.84M449.81 801.3V801.32M450.87 801.3V801.93M451.93 801.3V802.41M452.99 801.3V802.6M454.06 801.3V802.44M455.12 801.3V801.99M456.18 801.3V801.34M457.24 801.3V800.61M458.3 801.3V799.96M459.36 801.3V799.51M460.42 801.3V799.35M461.48 801.3V799.44M462.54 801.3V799.69M463.61 801.3V799.99M464.67 801.3V800.23M465.73 801.3V800.32M466.79 801.3V801.54M467.85 801.3V803.98M468.91 801.3V805.2M469.97 801.3V803.99M471.03 801.3V800.74M472.1 801.3V796.48M473.16 801.3V792.56M474.22 801.3V790.23M475.28 801.3V790.39M476.34 801.3V793.94M477.4 801.3V800.11M478.46 801.3V807.31M479.52 801.3V813.67M480.59 801.3V817.53M481.65 801.3V817.76M482.71 801.3V813.06M483.77 801.3V804.34M484.83 801.3V793.86M485.89 801.3V784.34M486.95 801.3V778.25M488.01 801.3V777.41M489.08 801.3V785.51M490.14 801.3V800.33M491.2 801.3V815.5M492.26 801.3V824.49M493.32 801.3V823.28M494.38 801.3V811.73M495.44 801.3V794.36M496.5 801.3V778.07M497.57 801.3V769.32M498.63 801.3V771.63M499.69 801.3V784.7M500.75 801.3V805.46M501.81 801.3V828.99M502.87 801.3V849.75M503.93 801.3V862.82M504.99 801.3V864.72M506.06 801.3V849.09M507.12 801.3V819.29M508.18 801.3V785.89M509.24 801.3V760.71M510.3 801.3V752.55" stroke="#93c060" stroke-width="1.4" fill="none"/>
<line x1="406.3" y1="801.3" x2="510.3" y2="801.3" stroke="#3a4a1a" stroke-width="1" />
<circle cx="406.3" cy="775.95" r="1.25" fill="#1a7a1a"/>
<circle cx="407.36" cy="812.67" r="1.25" fill="#1a7a1a"/>
<circle cx="408.42" cy="830.88" r="1.25" fill="#1a7a1a"/>
<circle cx="409.48" cy="835.42" r="1.25" fill="#1a7a1a"/>
<circle cx="410.54" cy="826.32" r="1.25" fill="#1a7a1a"/>
<circle cx="411.61" cy="811.7" r="1.25" fill="#1a7a1a"/>
<circle cx="412.67" cy="796.1" r="1.25" fill="#1a7a1a"/>
<circle cx="413.73" cy="786.02" r="1.25" fill="#1a7a1a"/>
<circle cx="414.79" cy="787" r="1.25" fill="#1a7a1a"/>
<circle cx="415.85" cy="793.5" r="1.25" fill="#1a7a1a"/>
<circle cx="416.91" cy="805.2" r="1.25" fill="#1a7a1a"/>
<circle cx="417.97" cy="815.27" r="1.25" fill="#1a7a1a"/>
<circle cx="419.03" cy="817.22" r="1.25" fill="#1a7a1a"/>
<circle cx="420.1" cy="809.75" r="1.25" fill="#1a7a1a"/>
<circle cx="421.16" cy="798.05" r="1.25" fill="#1a7a1a"/>
<circle cx="422.22" cy="788.95" r="1.25" fill="#1a7a1a"/>
<circle cx="423.28" cy="787.97" r="1.25" fill="#1a7a1a"/>
<circle cx="424.34" cy="797.07" r="1.25" fill="#1a7a1a"/>
<circle cx="425.4" cy="809.75" r="1.25" fill="#1a7a1a"/>
<circle cx="426.46" cy="819.82" r="1.25" fill="#1a7a1a"/>
<circle cx="427.52" cy="814.3" r="1.25" fill="#1a7a1a"/>
<circle cx="428.59" cy="802.6" r="1.25" fill="#1a7a1a"/>
<circle cx="429.65" cy="793.5" r="1.25" fill="#1a7a1a"/>
<circle cx="430.71" cy="789.92" r="1.25" fill="#1a7a1a"/>
<circle cx="431.77" cy="794.8" r="1.25" fill="#1a7a1a"/>
<circle cx="432.83" cy="801.3" r="1.25" fill="#1a7a1a"/>
<circle cx="433.89" cy="805.2" r="1.25" fill="#1a7a1a"/>
<circle cx="434.95" cy="807.15" r="1.25" fill="#1a7a1a"/>
<circle cx="436.01" cy="806.61" r="1.25" fill="#1a7a1a"/>
<circle cx="437.08" cy="805.12" r="1.25" fill="#1a7a1a"/>
<circle cx="438.14" cy="803.09" r="1.25" fill="#1a7a1a"/>
<circle cx="439.2" cy="801.06" r="1.25" fill="#1a7a1a"/>
<circle cx="440.26" cy="799.57" r="1.25" fill="#1a7a1a"/>
<circle cx="441.32" cy="799.02" r="1.25" fill="#1a7a1a"/>
<circle cx="442.38" cy="799.13" r="1.25" fill="#1a7a1a"/>
<circle cx="443.44" cy="799.43" r="1.25" fill="#1a7a1a"/>
<circle cx="444.5" cy="799.84" r="1.25" fill="#1a7a1a"/>
<circle cx="445.57" cy="800.24" r="1.25" fill="#1a7a1a"/>
<circle cx="446.63" cy="800.54" r="1.25" fill="#1a7a1a"/>
<circle cx="447.69" cy="800.65" r="1.25" fill="#1a7a1a"/>
<circle cx="448.75" cy="800.84" r="1.25" fill="#1a7a1a"/>
<circle cx="449.81" cy="801.32" r="1.25" fill="#1a7a1a"/>
<circle cx="450.87" cy="801.93" r="1.25" fill="#1a7a1a"/>
<circle cx="451.93" cy="802.41" r="1.25" fill="#1a7a1a"/>
<circle cx="452.99" cy="802.6" r="1.25" fill="#1a7a1a"/>
<circle cx="454.06" cy="802.44" r="1.25" fill="#1a7a1a"/>
<circle cx="455.12" cy="801.99" r="1.25" fill="#1a7a1a"/>
<circle cx="456.18" cy="801.34" r="1.25" fill="#1a7a1a"/>
<circle cx="457.24" cy="800.61" r="1.25" fill="#1a7a1a"/>
<circle cx="458.3" cy="799.96" r="1.25" fill="#1a7a1a"/>
<circle cx="459.36" cy="799.51" r="1.25" fill="#1a7a1a"/>
<circle cx="460.42" cy="799.35" r="1.25" fill="#1a7a1a"/>
<circle cx="461.48" cy="799.44" r="1.25" fill="#1a7a1a"/>
<circle cx="462.54" cy="799.69" r="1.25" fill="#1a7a1a"/>
<circle cx="463.61" cy="799.99" r="1.25" fill="#1a7a1a"/>
<circle cx="464.67" cy="800.23" r="1.25" fill="#1a7a1a"/>
<circle cx="465.73" cy="800.32" r="1.25" fill="#1a7a1a"/>
<circle cx="466.79" cy="801.54" r="1.25" fill="#1a7a1a"/>
<circle cx="467.85" cy="803.98" r="1.25" fill="#1a7a1a"/>
<circle cx="468.91" cy="805.2" r="1.25" fill="#1a7a1a"/>
<circle cx="469.97" cy="803.99" r="1.25" fill="#1a7a1a"/>
<circle cx="471.03" cy="800.74" r="1.25" fill="#1a7a1a"/>
<circle cx="472.1" cy="796.48" r="1.25" fill="#1a7a1a"/>
<circle cx="473.16" cy="792.56" r="1.25" fill="#1a7a1a"/>
<circle cx="474.22" cy="790.23" r="1.25" fill="#1a7a1a"/>
<circle cx="475.28" cy="790.39" r="1.25" fill="#1a7a1a"/>
<circle cx="476.34" cy="793.94" r="1.25" fill="#1a7a1a"/>
<circle cx="477.4" cy="800.11" r="1.25" fill="#1a7a1a"/>
<circle cx="478.46" cy="807.31" r="1.25" fill="#1a7a1a"/>
<circle cx="479.52" cy="813.67" r="1.25" fill="#1a7a1a"/>
<circle cx="480.59" cy="817.53" r="1.25" fill="#1a7a1a"/>
<circle cx="481.65" cy="817.76" r="1.25" fill="#1a7a1a"/>
<circle cx="482.71" cy="813.06" r="1.25" fill="#1a7a1a"/>
<circle cx="483.77" cy="804.34" r="1.25" fill="#1a7a1a"/>
<circle cx="484.83" cy="793.86" r="1.25" fill="#1a7a1a"/>
<circle cx="485.89" cy="784.34" r="1.25" fill="#1a7a1a"/>
<circle cx="486.95" cy="778.25" r="1.25" fill="#1a7a1a"/>
<circle cx="488.01" cy="777.41" r="1.25" fill="#1a7a1a"/>
<circle cx="489.08" cy="785.51" r="1.25" fill="#1a7a1a"/>
<circle cx="490.14" cy="800.33" r="1.25" fill="#1a7a1a"/>
<circle cx="491.2" cy="815.5" r="1.25" fill="#1a7a1a"/>
<circle cx="492.26" cy="824.49" r="1.25" fill="#1a7a1a"/>
<circle cx="493.32" cy="823.28" r="1.25" fill="#1a7a1a"/>
<circle cx="494.38" cy="811.73" r="1.25" fill="#1a7a1a"/>
<circle cx="495.44" cy="794.36" r="1.25" fill="#1a7a1a"/>
<circle cx="496.5" cy="778.07" r="1.25" fill="#1a7a1a"/>
<circle cx="497.57" cy="769.32" r="1.25" fill="#1a7a1a"/>
<circle cx="498.63" cy="771.63" r="1.25" fill="#1a7a1a"/>
<circle cx="499.69" cy="784.7" r="1.25" fill="#1a7a1a"/>
<circle cx="500.75" cy="805.46" r="1.25" fill="#1a7a1a"/>
<circle cx="501.81" cy="828.99" r="1.25" fill="#1a7a1a"/>
<circle cx="502.87" cy="849.75" r="1.25" fill="#1a7a1a"/>
<circle cx="503.93" cy="862.82" r="1.25" fill="#1a7a1a"/>
<circle cx="504.99" cy="864.72" r="1.25" fill="#1a7a1a"/>
<circle cx="506.06" cy="849.09" r="1.25" fill="#1a7a1a"/>
<circle cx="507.12" cy="819.29" r="1.25" fill="#1a7a1a"/>
<circle cx="508.18" cy="785.89" r="1.25" fill="#1a7a1a"/>
<circle cx="509.24" cy="760.71" r="1.25" fill="#1a7a1a"/>
<circle cx="510.3" cy="752.55" r="1.25" fill="#1a7a1a"/>
<rect x="406.3" y="736.5" width="104" height="129.8" fill="none" stroke="#1e1e1e" stroke-width="1.2"/>
<line x1="426.46" y1="736.5" x2="426.46" y2="738.5" stroke="#262626" stroke-width="0.8" />
<line x1="426.46" y1="866.3" x2="426.46" y2="864.3" stroke="#262626" stroke-width="0.8" />
<text x="426.46" y="881.2" font-family='"Liberation Sans", sans-serif' font-size="11.5" fill="#4a4a4a" text-anchor="middle" font-weight="normal" >20</text>
<line x1="447.69" y1="736.5" x2="447.69" y2="738.5" stroke="#262626" stroke-width="0.8" />
<line x1="447.69" y1="866.3" x2="447.69" y2="864.3" stroke="#262626" stroke-width="0.8" />
<text x="447.69" y="881.2" font-family='"Liberation Sans", sans-serif' font-size="11.5" fill="#4a4a4a" text-anchor="middle" font-weight="normal" >40</text>
<line x1="468.91" y1="736.5" x2="468.91" y2="738.5" stroke="#262626" stroke-width="0.8" />
<line x1="468.91" y1="866.3" x2="468.91" y2="864.3" stroke="#262626" stroke-width="0.8" />
<text x="468.91" y="881.2" font-family='"Liberation Sans", sans-serif' font-size="11.5" fill="#4a4a4a" text-anchor="middle" font-weight="normal" >60</text>
<line x1="490.14" y1="736.5" x2="490.14" y2="738.5" stroke="#262626" stroke-width="0.8" />
<line x1="490.14" y1="866.3" x2="490.14" y2="864.3" stroke="#262626" stroke-width="0.8" />
<text x="490.14" y="881.2" font-family='"Liberation Sans", sans-serif' font-size="11.5" fill="#4a4a4a" text-anchor="middle" font-weight="normal" >80</text>
<line x1="406.3" y1="866.3" x2="408.3" y2="866.3" stroke="#262626" stroke-width="0.8" />
<line x1="510.3" y1="866.3" x2="508.3" y2="866.3" stroke="#262626" stroke-width="0.8" />
<text x="402.6" y="870.4" font-family='"Liberation Sans", sans-serif' font-size="11.5" fill="#4a4a4a" text-anchor="end" font-weight="normal" >-2</text>
<line x1="406.3" y1="833.8" x2="408.3" y2="833.8" stroke="#262626" stroke-width="0.8" />
<line x1="510.3" y1="833.8" x2="508.3" y2="833.8" stroke="#262626" stroke-width="0.8" />
<text x="402.6" y="837.9" font-family='"Liberation Sans", sans-serif' font-size="11.5" fill="#4a4a4a" text-anchor="end" font-weight="normal" >-1</text>
<line x1="406.3" y1="801.3" x2="408.3" y2="801.3" stroke="#262626" stroke-width="0.8" />
<line x1="510.3" y1="801.3" x2="508.3" y2="801.3" stroke="#262626" stroke-width="0.8" />
<text x="402.6" y="805.4" font-family='"Liberation Sans", sans-serif' font-size="11.5" fill="#4a4a4a" text-anchor="end" font-weight="normal" >0</text>
<line x1="406.3" y1="768.8" x2="408.3" y2="768.8" stroke="#262626" stroke-width="0.8" />
<line x1="510.3" y1="768.8" x2="508.3" y2="768.8" stroke="#262626" stroke-width="0.8" />
<text x="402.6" y="772.9" font-family='"Liberation Sans", sans-serif' font-size="11.5" fill="#4a4a4a" text-anchor="end" font-weight="normal" >1</text>
<line x1="406.3" y1="736.3" x2="408.3" y2="736.3" stroke="#262626" stroke-width="0.8" />
<line x1="510.3" y1="736.3" x2="508.3" y2="736.3" stroke="#262626" stroke-width="0.8" />
<text x="402.6" y="740.4" font-family='"Liberation Sans", sans-serif' font-size="11.5" fill="#4a4a4a" text-anchor="end" font-weight="normal" >2</text>
<text x="0" y="0" font-family='"Liberation Serif", serif' font-size="13.3" fill="#444" text-anchor="middle" font-weight="normal" transform="translate(458.5 893) scale(1 1.1)" >Time</text>
<text x="371.6" y="801" font-family='"Liberation Serif", serif' font-size="13.5" fill="#3a3a3a" text-anchor="middle" font-weight="normal" transform="rotate(-90 371.6 801)" stroke="#3a3a3a" stroke-width="0.12">Error</text>
<text x="406.5" y="733.2" font-family='"Liberation Sans", sans-serif' font-size="12.3" fill="#4a4a4a"><tspan fill="#777">×</tspan><tspan dx="2.2">10</tspan><tspan font-size="9" dy="-5.2" dx="0.6">-4</tspan></text>
<rect x="510.3" y="711.7" width="166" height="188.6" fill="#fff" stroke="#1e1e1e" stroke-width="1.15"/>
<rect x="538.2" y="725.2" width="2" height="2" fill="#0000ff"/>
<text x="564.9" y="731.3" font-family='"Liberation Sans", sans-serif' font-size="12.8" fill="#222" text-anchor="start" font-weight="normal" >Training Targets</text>
<path d="M534.6 749.2h9.2M539.2 744.6v9.2" stroke="#0a7a0a" stroke-width="1.3" fill="none"/>
<text x="564.9" y="754.3" font-family='"Liberation Sans", sans-serif' font-size="12.8" fill="#222" text-anchor="start" font-weight="normal" >Training Outputs</text>
<rect x="538.2" y="771.2" width="2" height="2" fill="#22cc22"/>
<text x="564.9" y="777.3" font-family='"Liberation Sans", sans-serif' font-size="12.8" fill="#222" text-anchor="start" font-weight="normal" >Validation Targets</text>
<path d="M534.6 795.2h9.2M539.2 790.6v9.2" stroke="#22dd22" stroke-width="1.3" fill="none"/>
<text x="564.9" y="800.3" font-family='"Liberation Sans", sans-serif' font-size="12.8" fill="#222" text-anchor="start" font-weight="normal" >Validation Outputs</text>
<rect x="538.2" y="817.2" width="2" height="2" fill="#ff0000"/>
<text x="564.9" y="823.3" font-family='"Liberation Sans", sans-serif' font-size="12.8" fill="#222" text-anchor="start" font-weight="normal" >Test Targets</text>
<path d="M534.6 841.2h9.2M539.2 836.6v9.2" stroke="#77ac30" stroke-width="1.3" fill="none"/>
<text x="564.9" y="846.3" font-family='"Liberation Sans", sans-serif' font-size="12.8" fill="#222" text-anchor="start" font-weight="normal" >Test Outputs</text>
<line x1="517.6" y1="864.2" x2="561.5" y2="864.2" stroke="#ff9900" stroke-width="3" />
<text x="564.9" y="869.3" font-family='"Liberation Sans", sans-serif' font-size="12.8" fill="#222" text-anchor="start" font-weight="normal" >Errors</text>
<line x1="517.6" y1="887.2" x2="561.5" y2="887.2" stroke="#555" stroke-width="1.6" />
<text x="564.9" y="892.3" font-family='"Liberation Sans", sans-serif' font-size="12.8" fill="#222" text-anchor="start" font-weight="normal" >Response</text>
<rect x="400.5" y="900.3" width="275.8" height="21.1" fill="#fff" stroke="#1e1e1e" stroke-width="1.15"/>
<rect x="489.3" y="910.2" width="2" height="2" fill="#1a7a1a"/>
<text x="517.8" y="915.8" font-family='"Liberation Sans", sans-serif' font-size="12.8" fill="#222" text-anchor="start" font-weight="normal" >Targets - Outputs</text>
<text x="444.5" y="454.4" font-family='"Liberation Serif", serif' font-size="14.7" fill="#000" text-anchor="start" font-weight="bold" >b)</text>
<text x="471.2" y="454.6" font-family='"Liberation Serif", serif' font-size="14.7" fill="#000" text-anchor="start" font-weight="bold" textLength="152.8" lengthAdjust="spacingAndGlyphs" >Fitness graph of S-2 C-1</text>
<text x="444.5" y="948" font-family='"Liberation Serif", serif' font-size="14.7" fill="#000" text-anchor="start" font-weight="bold" >d)</text>
<text x="471.2" y="948" font-family='"Liberation Serif", serif' font-size="14.7" fill="#000" text-anchor="start" font-weight="bold" textLength="153" lengthAdjust="spacingAndGlyphs" >Fitness graph of S-2 C-2</text>
</svg>
</body></html>
